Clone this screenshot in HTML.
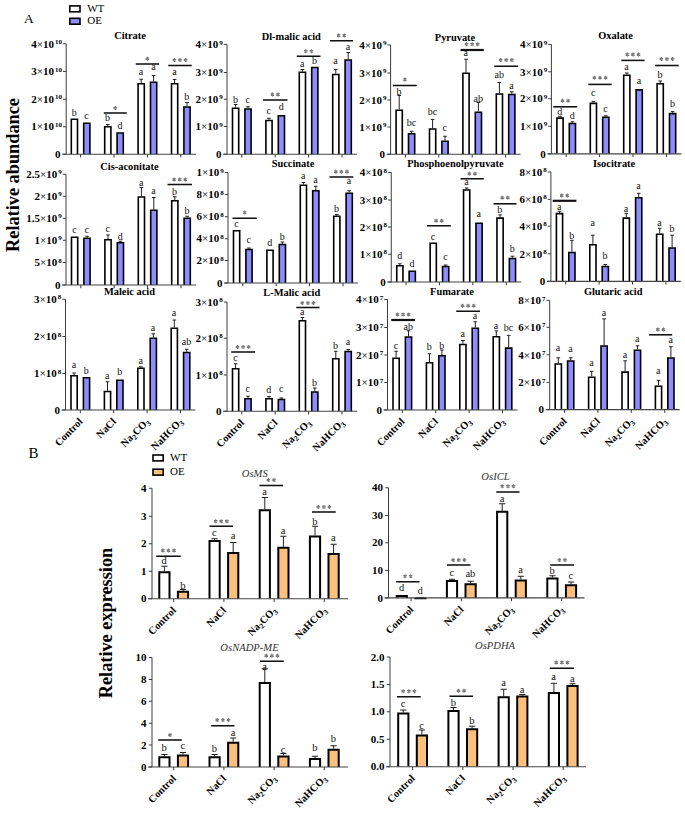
<!DOCTYPE html>
<html><head><meta charset="utf-8"><title>figure</title>
<style>html,body{margin:0;padding:0;background:#fff;}svg{display:block;}</style>
</head><body>
<svg width="685" height="813" viewBox="0 0 685 813">
<rect width="685" height="813" fill="#fff"/>
<text x="24" y="22.7" font-family="Liberation Serif" font-size="13.5">A</text>
<text x="28.6" y="457.9" font-family="Liberation Serif" font-size="15">B</text>
<rect x="69.8" y="5.8999999999999995" width="10.2" height="5.9" fill="#fff" stroke="#000" stroke-width="1.6"/>
<rect x="69.8" y="18.3" width="10.2" height="5.9" fill="#8f8cfd" stroke="#000" stroke-width="1.6"/>
<text x="87.2" y="11.899999999999999" font-family="Liberation Serif" font-size="11">WT</text>
<text x="87.2" y="24.3" font-family="Liberation Serif" font-size="11">OE</text>
<rect x="153.0" y="455.0" width="10.2" height="5.9" fill="#fff" stroke="#000" stroke-width="1.6"/>
<rect x="153.0" y="469.2" width="10.2" height="5.9" fill="#fcc07e" stroke="#000" stroke-width="1.6"/>
<text x="170.0" y="461.0" font-family="Liberation Serif" font-size="11">WT</text>
<text x="170.0" y="475.2" font-family="Liberation Serif" font-size="11">OE</text>
<text transform="translate(19.2,175) rotate(-90)" font-family="Liberation Serif" font-weight="bold" font-size="18.3" text-anchor="middle">Relative abundance</text>
<text transform="translate(112.3,623) rotate(-90)" font-family="Liberation Serif" font-weight="bold" font-size="18.3" text-anchor="middle">Relative expression</text>
<path d="M66.2,43.8V154.25" stroke="#3c3c3c" stroke-width="1" fill="none"/>
<path d="M63.0,43.8H66.2" stroke="#3c3c3c" stroke-width="1"/>
<text x="62.0" y="47.5" font-family="Liberation Serif" font-weight="bold" font-size="11" text-anchor="end">4<tspan font-weight="normal">×</tspan>10<tspan font-size="7" dx="1" dy="-3.6">10</tspan></text>
<path d="M63.0,71.4H66.2" stroke="#3c3c3c" stroke-width="1"/>
<text x="62.0" y="75.10000000000001" font-family="Liberation Serif" font-weight="bold" font-size="11" text-anchor="end">3<tspan font-weight="normal">×</tspan>10<tspan font-size="7" dx="1" dy="-3.6">10</tspan></text>
<path d="M63.0,99.25H66.2" stroke="#3c3c3c" stroke-width="1"/>
<text x="62.0" y="102.95" font-family="Liberation Serif" font-weight="bold" font-size="11" text-anchor="end">2<tspan font-weight="normal">×</tspan>10<tspan font-size="7" dx="1" dy="-3.6">10</tspan></text>
<path d="M63.0,126.75H66.2" stroke="#3c3c3c" stroke-width="1"/>
<text x="62.0" y="130.45" font-family="Liberation Serif" font-weight="bold" font-size="11" text-anchor="end">1<tspan font-weight="normal">×</tspan>10<tspan font-size="7" dx="1" dy="-3.6">10</tspan></text>
<path d="M63.0,154.25H66.2" stroke="#3c3c3c" stroke-width="1"/>
<text x="60.6" y="157.95" font-family="Liberation Serif" font-weight="bold" font-size="11" text-anchor="end">0</text>
<path d="M80.60,154.25v3.2" stroke="#333" stroke-width="1"/>
<path d="M114.00,154.25v3.2" stroke="#333" stroke-width="1"/>
<path d="M147.40,154.25v3.2" stroke="#333" stroke-width="1"/>
<path d="M180.80,154.25v3.2" stroke="#333" stroke-width="1"/>
<path d="M71.30,154.25V119.30H77.50V154.25" fill="#fff" stroke="#000" stroke-width="1.6"/>
<text x="74.20" y="116.40" font-family="Liberation Serif" font-size="10" text-anchor="middle" fill="#111">b</text>
<path d="M83.70,154.25V123.20H89.90V154.25" fill="#8f8cfd" stroke="#000" stroke-width="1.6"/>
<text x="86.60" y="118.65" font-family="Liberation Serif" font-size="10" text-anchor="middle" fill="#111">c</text>
<path d="M107.80,126.00V124.50M106.00,124.50H109.60" stroke="#222" stroke-width="1" fill="none"/>
<path d="M104.70,154.25V126.80H110.90V154.25" fill="#fff" stroke="#000" stroke-width="1.6"/>
<text x="107.60" y="121.40" font-family="Liberation Serif" font-size="10" text-anchor="middle" fill="#111">b</text>
<path d="M117.10,154.25V133.05H123.30V154.25" fill="#8f8cfd" stroke="#000" stroke-width="1.6"/>
<text x="120.00" y="129.40" font-family="Liberation Serif" font-size="10" text-anchor="middle" fill="#111">d</text>
<path d="M141.20,83.00V79.25M139.40,79.25H143.00" stroke="#222" stroke-width="1" fill="none"/>
<path d="M138.10,154.25V83.80H144.30V154.25" fill="#fff" stroke="#000" stroke-width="1.6"/>
<text x="141.00" y="74.90" font-family="Liberation Serif" font-size="10" text-anchor="middle" fill="#111">a</text>
<path d="M153.60,81.50V75.50M151.80,75.50H155.40" stroke="#222" stroke-width="1" fill="none"/>
<path d="M150.50,154.25V82.30H156.70V154.25" fill="#8f8cfd" stroke="#000" stroke-width="1.6"/>
<text x="153.40" y="70.40" font-family="Liberation Serif" font-size="10" text-anchor="middle" fill="#111">a</text>
<path d="M174.60,83.00V79.50M172.80,79.50H176.40" stroke="#222" stroke-width="1" fill="none"/>
<path d="M171.50,154.25V83.80H177.70V154.25" fill="#fff" stroke="#000" stroke-width="1.6"/>
<text x="174.40" y="74.90" font-family="Liberation Serif" font-size="10" text-anchor="middle" fill="#111">a</text>
<path d="M187.00,106.25V102.50M185.20,102.50H188.80" stroke="#222" stroke-width="1" fill="none"/>
<path d="M183.90,154.25V107.05H190.10V154.25" fill="#8f8cfd" stroke="#000" stroke-width="1.6"/>
<text x="186.80" y="100.15" font-family="Liberation Serif" font-size="10" text-anchor="middle" fill="#111">b</text>
<path d="M62.2,154.25H196.2" stroke="#444" stroke-width="1.2" fill="none"/>
<path d="M103.75,113H126.75" stroke="#111" stroke-width="1.55"/>
<path d="M115.25,106.00L115.25,110.00M113.52,107.00L116.98,109.00M116.98,107.00L113.52,109.00" stroke="#7a7a7a" stroke-width="1.15" fill="none"/>
<path d="M135.75,64H159" stroke="#111" stroke-width="1.55"/>
<path d="M147.38,56.75L147.38,60.75M145.64,57.75L149.11,59.75M149.11,57.75L145.64,59.75" stroke="#7a7a7a" stroke-width="1.15" fill="none"/>
<path d="M168.25,65.5H191.75" stroke="#111" stroke-width="1.55"/>
<path d="M174.40,58.00L174.40,62.00M172.67,59.00L176.13,61.00M176.13,59.00L172.67,61.00" stroke="#7a7a7a" stroke-width="1.15" fill="none"/><path d="M180.00,58.00L180.00,62.00M178.27,59.00L181.73,61.00M181.73,59.00L178.27,61.00" stroke="#7a7a7a" stroke-width="1.15" fill="none"/><path d="M185.60,58.00L185.60,62.00M183.87,59.00L187.33,61.00M187.33,59.00L183.87,61.00" stroke="#7a7a7a" stroke-width="1.15" fill="none"/>
<text x="130" y="38.6" font-family="Liberation Serif" font-weight="bold" font-size="10.4" text-anchor="middle">Citrate</text>
<path d="M227,44.4V154.25" stroke="#3c3c3c" stroke-width="1" fill="none"/>
<path d="M223.8,44.4H227" stroke="#3c3c3c" stroke-width="1"/>
<text x="222.8" y="48.1" font-family="Liberation Serif" font-weight="bold" font-size="11" text-anchor="end">4<tspan font-weight="normal">×</tspan>10<tspan font-size="7" dx="1" dy="-3.6">9</tspan></text>
<path d="M223.8,72.5H227" stroke="#3c3c3c" stroke-width="1"/>
<text x="222.8" y="76.2" font-family="Liberation Serif" font-weight="bold" font-size="11" text-anchor="end">3<tspan font-weight="normal">×</tspan>10<tspan font-size="7" dx="1" dy="-3.6">9</tspan></text>
<path d="M223.8,99.25H227" stroke="#3c3c3c" stroke-width="1"/>
<text x="222.8" y="102.95" font-family="Liberation Serif" font-weight="bold" font-size="11" text-anchor="end">2<tspan font-weight="normal">×</tspan>10<tspan font-size="7" dx="1" dy="-3.6">9</tspan></text>
<path d="M223.8,126.5H227" stroke="#3c3c3c" stroke-width="1"/>
<text x="222.8" y="130.2" font-family="Liberation Serif" font-weight="bold" font-size="11" text-anchor="end">1<tspan font-weight="normal">×</tspan>10<tspan font-size="7" dx="1" dy="-3.6">9</tspan></text>
<path d="M223.8,154.25H227" stroke="#3c3c3c" stroke-width="1"/>
<text x="221.4" y="157.95" font-family="Liberation Serif" font-weight="bold" font-size="11" text-anchor="end">0</text>
<path d="M241.80,154.25v3.2" stroke="#333" stroke-width="1"/>
<path d="M275.20,154.25v3.2" stroke="#333" stroke-width="1"/>
<path d="M308.60,154.25v3.2" stroke="#333" stroke-width="1"/>
<path d="M342.00,154.25v3.2" stroke="#333" stroke-width="1"/>
<path d="M235.60,107.50V104.50M233.80,104.50H237.40" stroke="#222" stroke-width="1" fill="none"/>
<path d="M232.50,154.25V108.30H238.70V154.25" fill="#fff" stroke="#000" stroke-width="1.6"/>
<text x="235.40" y="103.40" font-family="Liberation Serif" font-size="10" text-anchor="middle" fill="#111">b</text>
<path d="M248.00,108.25V106.75M246.20,106.75H249.80" stroke="#222" stroke-width="1" fill="none"/>
<path d="M244.90,154.25V109.05H251.10V154.25" fill="#8f8cfd" stroke="#000" stroke-width="1.6"/>
<text x="247.80" y="103.40" font-family="Liberation Serif" font-size="10" text-anchor="middle" fill="#111">c</text>
<path d="M269.00,119.75V118.25M267.20,118.25H270.80" stroke="#222" stroke-width="1" fill="none"/>
<path d="M265.90,154.25V120.55H272.10V154.25" fill="#fff" stroke="#000" stroke-width="1.6"/>
<text x="268.80" y="114.15" font-family="Liberation Serif" font-size="10" text-anchor="middle" fill="#111">c</text>
<path d="M278.30,154.25V115.80H284.50V154.25" fill="#8f8cfd" stroke="#000" stroke-width="1.6"/>
<text x="281.20" y="110.40" font-family="Liberation Serif" font-size="10" text-anchor="middle" fill="#111">d</text>
<path d="M302.40,71.50V69.50M300.60,69.50H304.20" stroke="#222" stroke-width="1" fill="none"/>
<path d="M299.30,154.25V72.30H305.50V154.25" fill="#fff" stroke="#000" stroke-width="1.6"/>
<text x="302.20" y="67.40" font-family="Liberation Serif" font-size="10" text-anchor="middle" fill="#111">a</text>
<path d="M311.70,154.25V67.55H317.90V154.25" fill="#8f8cfd" stroke="#000" stroke-width="1.6"/>
<text x="314.60" y="63.90" font-family="Liberation Serif" font-size="10" text-anchor="middle" fill="#111">b</text>
<path d="M335.80,73.75V69.50M334.00,69.50H337.60" stroke="#222" stroke-width="1" fill="none"/>
<path d="M332.70,154.25V74.55H338.90V154.25" fill="#fff" stroke="#000" stroke-width="1.6"/>
<text x="335.60" y="64.15" font-family="Liberation Serif" font-size="10" text-anchor="middle" fill="#111">a</text>
<path d="M348.20,59.25V52.50M346.40,52.50H350.00" stroke="#222" stroke-width="1" fill="none"/>
<path d="M345.10,154.25V60.05H351.30V154.25" fill="#8f8cfd" stroke="#000" stroke-width="1.6"/>
<text x="348.00" y="50.40" font-family="Liberation Serif" font-size="10" text-anchor="middle" fill="#111">a</text>
<path d="M223,154.25H357" stroke="#444" stroke-width="1.2" fill="none"/>
<path d="M263,100H287.5" stroke="#111" stroke-width="1.55"/>
<path d="M272.45,92.50L272.45,96.50M270.72,93.50L274.18,95.50M274.18,93.50L270.72,95.50" stroke="#7a7a7a" stroke-width="1.15" fill="none"/><path d="M278.05,92.50L278.05,96.50M276.32,93.50L279.78,95.50M279.78,93.50L276.32,95.50" stroke="#7a7a7a" stroke-width="1.15" fill="none"/>
<path d="M296.75,56.25H320.5" stroke="#111" stroke-width="1.55"/>
<path d="M305.82,49.25L305.82,53.25M304.09,50.25L307.56,52.25M307.56,50.25L304.09,52.25" stroke="#7a7a7a" stroke-width="1.15" fill="none"/><path d="M311.43,49.25L311.43,53.25M309.69,50.25L313.16,52.25M313.16,50.25L309.69,52.25" stroke="#7a7a7a" stroke-width="1.15" fill="none"/>
<path d="M330,40.75H353" stroke="#111" stroke-width="1.55"/>
<path d="M338.70,33.50L338.70,37.50M336.97,34.50L340.43,36.50M340.43,34.50L336.97,36.50" stroke="#7a7a7a" stroke-width="1.15" fill="none"/><path d="M344.30,33.50L344.30,37.50M342.57,34.50L346.03,36.50M346.03,34.50L342.57,36.50" stroke="#7a7a7a" stroke-width="1.15" fill="none"/>
<text x="291.25" y="39.85" font-family="Liberation Serif" font-weight="bold" font-size="10.4" text-anchor="middle">Dl-malic acid</text>
<path d="M390.6,45V154.25" stroke="#3c3c3c" stroke-width="1" fill="none"/>
<path d="M387.40000000000003,45H390.6" stroke="#3c3c3c" stroke-width="1"/>
<text x="386.40000000000003" y="48.7" font-family="Liberation Serif" font-weight="bold" font-size="11" text-anchor="end">4<tspan font-weight="normal">×</tspan>10<tspan font-size="7" dx="1" dy="-3.6">9</tspan></text>
<path d="M387.40000000000003,73H390.6" stroke="#3c3c3c" stroke-width="1"/>
<text x="386.40000000000003" y="76.7" font-family="Liberation Serif" font-weight="bold" font-size="11" text-anchor="end">3<tspan font-weight="normal">×</tspan>10<tspan font-size="7" dx="1" dy="-3.6">9</tspan></text>
<path d="M387.40000000000003,100H390.6" stroke="#3c3c3c" stroke-width="1"/>
<text x="386.40000000000003" y="103.7" font-family="Liberation Serif" font-weight="bold" font-size="11" text-anchor="end">2<tspan font-weight="normal">×</tspan>10<tspan font-size="7" dx="1" dy="-3.6">9</tspan></text>
<path d="M387.40000000000003,127H390.6" stroke="#3c3c3c" stroke-width="1"/>
<text x="386.40000000000003" y="130.7" font-family="Liberation Serif" font-weight="bold" font-size="11" text-anchor="end">1<tspan font-weight="normal">×</tspan>10<tspan font-size="7" dx="1" dy="-3.6">9</tspan></text>
<path d="M387.40000000000003,154.25H390.6" stroke="#3c3c3c" stroke-width="1"/>
<text x="385.0" y="157.95" font-family="Liberation Serif" font-weight="bold" font-size="11" text-anchor="end">0</text>
<path d="M405.40,154.25v3.2" stroke="#333" stroke-width="1"/>
<path d="M438.80,154.25v3.2" stroke="#333" stroke-width="1"/>
<path d="M472.20,154.25v3.2" stroke="#333" stroke-width="1"/>
<path d="M505.60,154.25v3.2" stroke="#333" stroke-width="1"/>
<path d="M399.20,109.50V95.50M397.40,95.50H401.00" stroke="#222" stroke-width="1" fill="none"/>
<path d="M396.10,154.25V110.30H402.30V154.25" fill="#fff" stroke="#000" stroke-width="1.6"/>
<text x="399.00" y="94.65" font-family="Liberation Serif" font-size="10" text-anchor="middle" fill="#111">b</text>
<path d="M411.60,133.00V131.25M409.80,131.25H413.40" stroke="#222" stroke-width="1" fill="none"/>
<path d="M408.50,154.25V133.80H414.70V154.25" fill="#8f8cfd" stroke="#000" stroke-width="1.6"/>
<text x="411.40" y="126.20" font-family="Liberation Serif" font-size="10" text-anchor="middle" fill="#111">bc</text>
<path d="M432.60,128.25V119.50M430.80,119.50H434.40" stroke="#222" stroke-width="1" fill="none"/>
<path d="M429.50,154.25V129.05H435.70V154.25" fill="#fff" stroke="#000" stroke-width="1.6"/>
<text x="432.40" y="115.45" font-family="Liberation Serif" font-size="10" text-anchor="middle" fill="#111">bc</text>
<path d="M445.00,140.50V136.25M443.20,136.25H446.80" stroke="#222" stroke-width="1" fill="none"/>
<path d="M441.90,154.25V141.30H448.10V154.25" fill="#8f8cfd" stroke="#000" stroke-width="1.6"/>
<text x="444.80" y="131.15" font-family="Liberation Serif" font-size="10" text-anchor="middle" fill="#111">c</text>
<path d="M466.00,72.50V59.25M464.20,59.25H467.80" stroke="#222" stroke-width="1" fill="none"/>
<path d="M462.90,154.25V73.30H469.10V154.25" fill="#fff" stroke="#000" stroke-width="1.6"/>
<text x="465.80" y="56.15" font-family="Liberation Serif" font-size="10" text-anchor="middle" fill="#111">a</text>
<path d="M478.40,111.50V102.50M476.60,102.50H480.20" stroke="#222" stroke-width="1" fill="none"/>
<path d="M475.30,154.25V112.30H481.50V154.25" fill="#8f8cfd" stroke="#000" stroke-width="1.6"/>
<text x="478.20" y="101.95" font-family="Liberation Serif" font-size="10" text-anchor="middle" fill="#111">ab</text>
<path d="M499.40,93.25V82.50M497.60,82.50H501.20" stroke="#222" stroke-width="1" fill="none"/>
<path d="M496.30,154.25V94.05H502.50V154.25" fill="#fff" stroke="#000" stroke-width="1.6"/>
<text x="499.20" y="78.20" font-family="Liberation Serif" font-size="10" text-anchor="middle" fill="#111">ab</text>
<path d="M511.80,93.75V91.75M510.00,91.75H513.60" stroke="#222" stroke-width="1" fill="none"/>
<path d="M508.70,154.25V94.55H514.90V154.25" fill="#8f8cfd" stroke="#000" stroke-width="1.6"/>
<text x="511.60" y="89.15" font-family="Liberation Serif" font-size="10" text-anchor="middle" fill="#111">a</text>
<path d="M386.6,154.25H520.6" stroke="#444" stroke-width="1.2" fill="none"/>
<path d="M393,85.5H416.75" stroke="#111" stroke-width="1.55"/>
<path d="M404.88,77.50L404.88,81.50M403.14,78.50L406.61,80.50M406.61,78.50L403.14,80.50" stroke="#7a7a7a" stroke-width="1.15" fill="none"/>
<path d="M460.5,50H483.75" stroke="#111" stroke-width="2.2"/>
<path d="M466.52,42.25L466.52,46.25M464.79,43.25L468.26,45.25M468.26,43.25L464.79,45.25" stroke="#7a7a7a" stroke-width="1.15" fill="none"/><path d="M472.12,42.25L472.12,46.25M470.39,43.25L473.86,45.25M473.86,43.25L470.39,45.25" stroke="#7a7a7a" stroke-width="1.15" fill="none"/><path d="M477.72,42.25L477.72,46.25M475.99,43.25L479.46,45.25M479.46,43.25L475.99,45.25" stroke="#7a7a7a" stroke-width="1.15" fill="none"/>
<path d="M494.25,66.25H518.25" stroke="#111" stroke-width="1.55"/>
<path d="M500.65,58.00L500.65,62.00M498.92,59.00L502.38,61.00M502.38,59.00L498.92,61.00" stroke="#7a7a7a" stroke-width="1.15" fill="none"/><path d="M506.25,58.00L506.25,62.00M504.52,59.00L507.98,61.00M507.98,59.00L504.52,61.00" stroke="#7a7a7a" stroke-width="1.15" fill="none"/><path d="M511.85,58.00L511.85,62.00M510.12,59.00L513.58,61.00M513.58,59.00L510.12,61.00" stroke="#7a7a7a" stroke-width="1.15" fill="none"/>
<text x="455" y="40.6" font-family="Liberation Serif" font-weight="bold" font-size="10.4" text-anchor="middle">Pyruvate</text>
<path d="M551.4,44.4V153.8" stroke="#3c3c3c" stroke-width="1" fill="none"/>
<path d="M548.1999999999999,44.4H551.4" stroke="#3c3c3c" stroke-width="1"/>
<text x="547.1999999999999" y="48.1" font-family="Liberation Serif" font-weight="bold" font-size="11" text-anchor="end">4<tspan font-weight="normal">×</tspan>10<tspan font-size="7" dx="1" dy="-3.6">9</tspan></text>
<path d="M548.1999999999999,71.8H551.4" stroke="#3c3c3c" stroke-width="1"/>
<text x="547.1999999999999" y="75.5" font-family="Liberation Serif" font-weight="bold" font-size="11" text-anchor="end">3<tspan font-weight="normal">×</tspan>10<tspan font-size="7" dx="1" dy="-3.6">9</tspan></text>
<path d="M548.1999999999999,98.7H551.4" stroke="#3c3c3c" stroke-width="1"/>
<text x="547.1999999999999" y="102.4" font-family="Liberation Serif" font-weight="bold" font-size="11" text-anchor="end">2<tspan font-weight="normal">×</tspan>10<tspan font-size="7" dx="1" dy="-3.6">9</tspan></text>
<path d="M548.1999999999999,126.3H551.4" stroke="#3c3c3c" stroke-width="1"/>
<text x="547.1999999999999" y="130.0" font-family="Liberation Serif" font-weight="bold" font-size="11" text-anchor="end">1<tspan font-weight="normal">×</tspan>10<tspan font-size="7" dx="1" dy="-3.6">9</tspan></text>
<path d="M548.1999999999999,153.8H551.4" stroke="#3c3c3c" stroke-width="1"/>
<text x="545.8" y="157.5" font-family="Liberation Serif" font-weight="bold" font-size="11" text-anchor="end">0</text>
<path d="M566.20,153.8v3.2" stroke="#333" stroke-width="1"/>
<path d="M599.60,153.8v3.2" stroke="#333" stroke-width="1"/>
<path d="M633.00,153.8v3.2" stroke="#333" stroke-width="1"/>
<path d="M666.40,153.8v3.2" stroke="#333" stroke-width="1"/>
<path d="M560.00,117.30V116.40M558.20,116.40H561.80" stroke="#222" stroke-width="1" fill="none"/>
<path d="M556.90,153.80V118.10H563.10V153.80" fill="#fff" stroke="#000" stroke-width="1.6"/>
<text x="559.80" y="115.20" font-family="Liberation Serif" font-size="10" text-anchor="middle" fill="#111">d</text>
<path d="M572.40,122.70V121.80M570.60,121.80H574.20" stroke="#222" stroke-width="1" fill="none"/>
<path d="M569.30,153.80V123.50H575.50V153.80" fill="#8f8cfd" stroke="#000" stroke-width="1.6"/>
<text x="572.20" y="119.10" font-family="Liberation Serif" font-size="10" text-anchor="middle" fill="#111">d</text>
<path d="M593.40,102.60V101.40M591.60,101.40H595.20" stroke="#222" stroke-width="1" fill="none"/>
<path d="M590.30,153.80V103.40H596.50V153.80" fill="#fff" stroke="#000" stroke-width="1.6"/>
<text x="593.20" y="95.60" font-family="Liberation Serif" font-size="10" text-anchor="middle" fill="#111">c</text>
<path d="M605.80,116.40V115.80M604.00,115.80H607.60" stroke="#222" stroke-width="1" fill="none"/>
<path d="M602.70,153.80V117.20H608.90V153.80" fill="#8f8cfd" stroke="#000" stroke-width="1.6"/>
<text x="605.60" y="111.50" font-family="Liberation Serif" font-size="10" text-anchor="middle" fill="#111">c</text>
<path d="M626.80,74.50V73.00M625.00,73.00H628.60" stroke="#222" stroke-width="1" fill="none"/>
<path d="M623.70,153.80V75.30H629.90V153.80" fill="#fff" stroke="#000" stroke-width="1.6"/>
<text x="626.60" y="69.90" font-family="Liberation Serif" font-size="10" text-anchor="middle" fill="#111">a</text>
<path d="M636.10,153.80V89.90H642.30V153.80" fill="#8f8cfd" stroke="#000" stroke-width="1.6"/>
<text x="639.00" y="83.70" font-family="Liberation Serif" font-size="10" text-anchor="middle" fill="#111">a</text>
<path d="M660.20,82.90V81.00M658.40,81.00H662.00" stroke="#222" stroke-width="1" fill="none"/>
<path d="M657.10,153.80V83.70H663.30V153.80" fill="#fff" stroke="#000" stroke-width="1.6"/>
<text x="660.00" y="77.80" font-family="Liberation Serif" font-size="10" text-anchor="middle" fill="#111">b</text>
<path d="M672.60,112.80V111.60M670.80,111.60H674.40" stroke="#222" stroke-width="1" fill="none"/>
<path d="M669.50,153.80V113.60H675.70V153.80" fill="#8f8cfd" stroke="#000" stroke-width="1.6"/>
<text x="672.40" y="106.80" font-family="Liberation Serif" font-size="10" text-anchor="middle" fill="#111">b</text>
<path d="M547.4,153.8H681.4" stroke="#444" stroke-width="1.2" fill="none"/>
<path d="M553.3,106.8H577.3" stroke="#111" stroke-width="1.55"/>
<path d="M562.50,98.80L562.50,102.80M560.77,99.80L564.23,101.80M564.23,99.80L560.77,101.80" stroke="#7a7a7a" stroke-width="1.15" fill="none"/><path d="M568.10,98.80L568.10,102.80M566.37,99.80L569.83,101.80M569.83,99.80L566.37,101.80" stroke="#7a7a7a" stroke-width="1.15" fill="none"/>
<path d="M588.3,84.4H611.7" stroke="#111" stroke-width="1.55"/>
<path d="M594.40,75.80L594.40,79.80M592.67,76.80L596.13,78.80M596.13,76.80L592.67,78.80" stroke="#7a7a7a" stroke-width="1.15" fill="none"/><path d="M600.00,75.80L600.00,79.80M598.27,76.80L601.73,78.80M601.73,76.80L598.27,78.80" stroke="#7a7a7a" stroke-width="1.15" fill="none"/><path d="M605.60,75.80L605.60,79.80M603.87,76.80L607.33,78.80M607.33,76.80L603.87,78.80" stroke="#7a7a7a" stroke-width="1.15" fill="none"/>
<path d="M621.3,60.4H644.6" stroke="#111" stroke-width="1.55"/>
<path d="M627.35,52.40L627.35,56.40M625.62,53.40L629.08,55.40M629.08,53.40L625.62,55.40" stroke="#7a7a7a" stroke-width="1.15" fill="none"/><path d="M632.95,52.40L632.95,56.40M631.22,53.40L634.68,55.40M634.68,53.40L631.22,55.40" stroke="#7a7a7a" stroke-width="1.15" fill="none"/><path d="M638.55,52.40L638.55,56.40M636.82,53.40L640.28,55.40M640.28,53.40L636.82,55.40" stroke="#7a7a7a" stroke-width="1.15" fill="none"/>
<path d="M655.1,65.5H678.7" stroke="#111" stroke-width="1.55"/>
<path d="M661.30,56.90L661.30,60.90M659.57,57.90L663.03,59.90M663.03,57.90L659.57,59.90" stroke="#7a7a7a" stroke-width="1.15" fill="none"/><path d="M666.90,56.90L666.90,60.90M665.17,57.90L668.63,59.90M668.63,57.90L665.17,59.90" stroke="#7a7a7a" stroke-width="1.15" fill="none"/><path d="M672.50,56.90L672.50,60.90M670.77,57.90L674.23,59.90M674.23,57.90L670.77,59.90" stroke="#7a7a7a" stroke-width="1.15" fill="none"/>
<text x="615.6" y="39.2" font-family="Liberation Serif" font-weight="bold" font-size="10.4" text-anchor="middle">Oxalate</text>
<path d="M66,174.25V285" stroke="#3c3c3c" stroke-width="1" fill="none"/>
<path d="M62.8,174.25H66" stroke="#3c3c3c" stroke-width="1"/>
<text x="61.8" y="177.95" font-family="Liberation Serif" font-weight="bold" font-size="11" text-anchor="end">2.5<tspan font-weight="normal">×</tspan>10<tspan font-size="7" dx="1" dy="-3.6">9</tspan></text>
<path d="M62.8,196.25H66" stroke="#3c3c3c" stroke-width="1"/>
<text x="61.8" y="199.95" font-family="Liberation Serif" font-weight="bold" font-size="11" text-anchor="end">2<tspan font-weight="normal">×</tspan>10<tspan font-size="7" dx="1" dy="-3.6">9</tspan></text>
<path d="M62.8,218.25H66" stroke="#3c3c3c" stroke-width="1"/>
<text x="61.8" y="221.95" font-family="Liberation Serif" font-weight="bold" font-size="11" text-anchor="end">1.5<tspan font-weight="normal">×</tspan>10<tspan font-size="7" dx="1" dy="-3.6">9</tspan></text>
<path d="M62.8,240.25H66" stroke="#3c3c3c" stroke-width="1"/>
<text x="61.8" y="243.95" font-family="Liberation Serif" font-weight="bold" font-size="11" text-anchor="end">1<tspan font-weight="normal">×</tspan>10<tspan font-size="7" dx="1" dy="-3.6">9</tspan></text>
<path d="M62.8,262.5H66" stroke="#3c3c3c" stroke-width="1"/>
<text x="61.8" y="266.2" font-family="Liberation Serif" font-weight="bold" font-size="11" text-anchor="end">5<tspan font-weight="normal">×</tspan>10<tspan font-size="7" dx="1" dy="-3.6">8</tspan></text>
<path d="M62.8,285H66" stroke="#3c3c3c" stroke-width="1"/>
<text x="60.4" y="288.7" font-family="Liberation Serif" font-weight="bold" font-size="11" text-anchor="end">0</text>
<path d="M80.80,285v3.2" stroke="#333" stroke-width="1"/>
<path d="M114.20,285v3.2" stroke="#333" stroke-width="1"/>
<path d="M147.60,285v3.2" stroke="#333" stroke-width="1"/>
<path d="M181.00,285v3.2" stroke="#333" stroke-width="1"/>
<path d="M71.50,285.00V237.30H77.70V285.00" fill="#fff" stroke="#000" stroke-width="1.6"/>
<text x="74.40" y="232.90" font-family="Liberation Serif" font-size="10" text-anchor="middle" fill="#111">c</text>
<path d="M87.00,237.50V236.25M85.20,236.25H88.80" stroke="#222" stroke-width="1" fill="none"/>
<path d="M83.90,285.00V238.30H90.10V285.00" fill="#8f8cfd" stroke="#000" stroke-width="1.6"/>
<text x="86.80" y="232.90" font-family="Liberation Serif" font-size="10" text-anchor="middle" fill="#111">c</text>
<path d="M108.00,239.00V235.00M106.20,235.00H109.80" stroke="#222" stroke-width="1" fill="none"/>
<path d="M104.90,285.00V239.80H111.10V285.00" fill="#fff" stroke="#000" stroke-width="1.6"/>
<text x="107.80" y="232.40" font-family="Liberation Serif" font-size="10" text-anchor="middle" fill="#111">c</text>
<path d="M120.40,242.00V241.25M118.60,241.25H122.20" stroke="#222" stroke-width="1" fill="none"/>
<path d="M117.30,285.00V242.80H123.50V285.00" fill="#8f8cfd" stroke="#000" stroke-width="1.6"/>
<text x="120.20" y="240.15" font-family="Liberation Serif" font-size="10" text-anchor="middle" fill="#111">d</text>
<path d="M141.40,196.25V187.50M139.60,187.50H143.20" stroke="#222" stroke-width="1" fill="none"/>
<path d="M138.30,285.00V197.05H144.50V285.00" fill="#fff" stroke="#000" stroke-width="1.6"/>
<text x="141.20" y="185.90" font-family="Liberation Serif" font-size="10" text-anchor="middle" fill="#111">a</text>
<path d="M153.80,209.50V197.50M152.00,197.50H155.60" stroke="#222" stroke-width="1" fill="none"/>
<path d="M150.70,285.00V210.30H156.90V285.00" fill="#8f8cfd" stroke="#000" stroke-width="1.6"/>
<text x="153.60" y="194.15" font-family="Liberation Serif" font-size="10" text-anchor="middle" fill="#111">a</text>
<path d="M174.80,200.00V196.75M173.00,196.75H176.60" stroke="#222" stroke-width="1" fill="none"/>
<path d="M171.70,285.00V200.80H177.90V285.00" fill="#fff" stroke="#000" stroke-width="1.6"/>
<text x="174.60" y="195.15" font-family="Liberation Serif" font-size="10" text-anchor="middle" fill="#111">b</text>
<path d="M187.20,217.50V216.25M185.40,216.25H189.00" stroke="#222" stroke-width="1" fill="none"/>
<path d="M184.10,285.00V218.30H190.30V285.00" fill="#8f8cfd" stroke="#000" stroke-width="1.6"/>
<text x="187.00" y="214.40" font-family="Liberation Serif" font-size="10" text-anchor="middle" fill="#111">b</text>
<path d="M62,285H196" stroke="#444" stroke-width="1.2" fill="none"/>
<path d="M167.5,184.5H192" stroke="#111" stroke-width="1.55"/>
<path d="M174.15,177.50L174.15,181.50M172.42,178.50L175.88,180.50M175.88,178.50L172.42,180.50" stroke="#7a7a7a" stroke-width="1.15" fill="none"/><path d="M179.75,177.50L179.75,181.50M178.02,178.50L181.48,180.50M181.48,178.50L178.02,180.50" stroke="#7a7a7a" stroke-width="1.15" fill="none"/><path d="M185.35,177.50L185.35,181.50M183.62,178.50L187.08,180.50M187.08,178.50L183.62,180.50" stroke="#7a7a7a" stroke-width="1.15" fill="none"/>
<text x="129.5" y="169.85" font-family="Liberation Serif" font-weight="bold" font-size="10.4" text-anchor="middle">Cis-aconitate</text>
<path d="M228,172.5V283" stroke="#3c3c3c" stroke-width="1" fill="none"/>
<path d="M224.8,172.5H228" stroke="#3c3c3c" stroke-width="1"/>
<text x="223.8" y="176.2" font-family="Liberation Serif" font-weight="bold" font-size="11" text-anchor="end">1<tspan font-weight="normal">×</tspan>10<tspan font-size="7" dx="1" dy="-3.6">9</tspan></text>
<path d="M224.8,194.5H228" stroke="#3c3c3c" stroke-width="1"/>
<text x="223.8" y="198.2" font-family="Liberation Serif" font-weight="bold" font-size="11" text-anchor="end">8<tspan font-weight="normal">×</tspan>10<tspan font-size="7" dx="1" dy="-3.6">8</tspan></text>
<path d="M224.8,216.75H228" stroke="#3c3c3c" stroke-width="1"/>
<text x="223.8" y="220.45" font-family="Liberation Serif" font-weight="bold" font-size="11" text-anchor="end">6<tspan font-weight="normal">×</tspan>10<tspan font-size="7" dx="1" dy="-3.6">8</tspan></text>
<path d="M224.8,238.75H228" stroke="#3c3c3c" stroke-width="1"/>
<text x="223.8" y="242.45" font-family="Liberation Serif" font-weight="bold" font-size="11" text-anchor="end">4<tspan font-weight="normal">×</tspan>10<tspan font-size="7" dx="1" dy="-3.6">8</tspan></text>
<path d="M224.8,260.5H228" stroke="#3c3c3c" stroke-width="1"/>
<text x="223.8" y="264.2" font-family="Liberation Serif" font-weight="bold" font-size="11" text-anchor="end">2<tspan font-weight="normal">×</tspan>10<tspan font-size="7" dx="1" dy="-3.6">8</tspan></text>
<path d="M224.8,283H228" stroke="#3c3c3c" stroke-width="1"/>
<text x="222.4" y="286.7" font-family="Liberation Serif" font-weight="bold" font-size="11" text-anchor="end">0</text>
<path d="M242.80,283v3.2" stroke="#333" stroke-width="1"/>
<path d="M276.20,283v3.2" stroke="#333" stroke-width="1"/>
<path d="M309.60,283v3.2" stroke="#333" stroke-width="1"/>
<path d="M343.00,283v3.2" stroke="#333" stroke-width="1"/>
<path d="M233.50,283.00V230.80H239.70V283.00" fill="#fff" stroke="#000" stroke-width="1.6"/>
<text x="236.40" y="227.15" font-family="Liberation Serif" font-size="10" text-anchor="middle" fill="#111">c</text>
<path d="M249.00,248.75V248.00M247.20,248.00H250.80" stroke="#222" stroke-width="1" fill="none"/>
<path d="M245.90,283.00V249.55H252.10V283.00" fill="#8f8cfd" stroke="#000" stroke-width="1.6"/>
<text x="248.80" y="242.90" font-family="Liberation Serif" font-size="10" text-anchor="middle" fill="#111">c</text>
<path d="M266.90,283.00V250.30H273.10V283.00" fill="#fff" stroke="#000" stroke-width="1.6"/>
<text x="269.80" y="245.90" font-family="Liberation Serif" font-size="10" text-anchor="middle" fill="#111">d</text>
<path d="M282.40,243.75V242.00M280.60,242.00H284.20" stroke="#222" stroke-width="1" fill="none"/>
<path d="M279.30,283.00V244.55H285.50V283.00" fill="#8f8cfd" stroke="#000" stroke-width="1.6"/>
<text x="282.20" y="240.15" font-family="Liberation Serif" font-size="10" text-anchor="middle" fill="#111">b</text>
<path d="M303.40,184.50V182.50M301.60,182.50H305.20" stroke="#222" stroke-width="1" fill="none"/>
<path d="M300.30,283.00V185.30H306.50V283.00" fill="#fff" stroke="#000" stroke-width="1.6"/>
<text x="303.20" y="179.15" font-family="Liberation Serif" font-size="10" text-anchor="middle" fill="#111">a</text>
<path d="M315.80,190.00V186.25M314.00,186.25H317.60" stroke="#222" stroke-width="1" fill="none"/>
<path d="M312.70,283.00V190.80H318.90V283.00" fill="#8f8cfd" stroke="#000" stroke-width="1.6"/>
<text x="315.60" y="182.90" font-family="Liberation Serif" font-size="10" text-anchor="middle" fill="#111">a</text>
<path d="M336.80,215.50V214.50M335.00,214.50H338.60" stroke="#222" stroke-width="1" fill="none"/>
<path d="M333.70,283.00V216.30H339.90V283.00" fill="#fff" stroke="#000" stroke-width="1.6"/>
<text x="336.60" y="211.90" font-family="Liberation Serif" font-size="10" text-anchor="middle" fill="#111">b</text>
<path d="M349.20,192.50V190.75M347.40,190.75H351.00" stroke="#222" stroke-width="1" fill="none"/>
<path d="M346.10,283.00V193.30H352.30V283.00" fill="#8f8cfd" stroke="#000" stroke-width="1.6"/>
<text x="349.00" y="184.15" font-family="Liberation Serif" font-size="10" text-anchor="middle" fill="#111">a</text>
<path d="M224,283H358" stroke="#444" stroke-width="1.2" fill="none"/>
<path d="M232.5,218.25H256.75" stroke="#111" stroke-width="1.55"/>
<path d="M244.62,210.50L244.62,214.50M242.89,211.50L246.36,213.50M246.36,211.50L242.89,213.50" stroke="#7a7a7a" stroke-width="1.15" fill="none"/>
<path d="M329.5,177H353.25" stroke="#111" stroke-width="1.55"/>
<path d="M335.77,169.75L335.77,173.75M334.04,170.75L337.51,172.75M337.51,170.75L334.04,172.75" stroke="#7a7a7a" stroke-width="1.15" fill="none"/><path d="M341.38,169.75L341.38,173.75M339.64,170.75L343.11,172.75M343.11,170.75L339.64,172.75" stroke="#7a7a7a" stroke-width="1.15" fill="none"/><path d="M346.97,169.75L346.97,173.75M345.24,170.75L348.71,172.75M348.71,170.75L345.24,172.75" stroke="#7a7a7a" stroke-width="1.15" fill="none"/>
<text x="293" y="167.35" font-family="Liberation Serif" font-weight="bold" font-size="10.4" text-anchor="middle">Succinate</text>
<path d="M391.25,172.5V282" stroke="#3c3c3c" stroke-width="1" fill="none"/>
<path d="M388.05,172.5H391.25" stroke="#3c3c3c" stroke-width="1"/>
<text x="387.05" y="176.2" font-family="Liberation Serif" font-weight="bold" font-size="11" text-anchor="end">4<tspan font-weight="normal">×</tspan>10<tspan font-size="7" dx="1" dy="-3.6">8</tspan></text>
<path d="M388.05,200H391.25" stroke="#3c3c3c" stroke-width="1"/>
<text x="387.05" y="203.7" font-family="Liberation Serif" font-weight="bold" font-size="11" text-anchor="end">3<tspan font-weight="normal">×</tspan>10<tspan font-size="7" dx="1" dy="-3.6">8</tspan></text>
<path d="M388.05,227H391.25" stroke="#3c3c3c" stroke-width="1"/>
<text x="387.05" y="230.7" font-family="Liberation Serif" font-weight="bold" font-size="11" text-anchor="end">2<tspan font-weight="normal">×</tspan>10<tspan font-size="7" dx="1" dy="-3.6">8</tspan></text>
<path d="M388.05,254.25H391.25" stroke="#3c3c3c" stroke-width="1"/>
<text x="387.05" y="257.95" font-family="Liberation Serif" font-weight="bold" font-size="11" text-anchor="end">1<tspan font-weight="normal">×</tspan>10<tspan font-size="7" dx="1" dy="-3.6">8</tspan></text>
<path d="M388.05,282H391.25" stroke="#3c3c3c" stroke-width="1"/>
<text x="385.65" y="285.7" font-family="Liberation Serif" font-weight="bold" font-size="11" text-anchor="end">0</text>
<path d="M406.05,282v3.2" stroke="#333" stroke-width="1"/>
<path d="M439.45,282v3.2" stroke="#333" stroke-width="1"/>
<path d="M472.85,282v3.2" stroke="#333" stroke-width="1"/>
<path d="M506.25,282v3.2" stroke="#333" stroke-width="1"/>
<path d="M399.85,265.00V263.75M398.05,263.75H401.65" stroke="#222" stroke-width="1" fill="none"/>
<path d="M396.75,282.00V265.80H402.95V282.00" fill="#fff" stroke="#000" stroke-width="1.6"/>
<text x="399.65" y="259.40" font-family="Liberation Serif" font-size="10" text-anchor="middle" fill="#111">d</text>
<path d="M409.15,282.00V271.30H415.35V282.00" fill="#8f8cfd" stroke="#000" stroke-width="1.6"/>
<text x="412.05" y="266.90" font-family="Liberation Serif" font-size="10" text-anchor="middle" fill="#111">d</text>
<path d="M430.15,282.00V243.30H436.35V282.00" fill="#fff" stroke="#000" stroke-width="1.6"/>
<text x="433.05" y="239.65" font-family="Liberation Serif" font-size="10" text-anchor="middle" fill="#111">c</text>
<path d="M445.65,265.75V265.00M443.85,265.00H447.45" stroke="#222" stroke-width="1" fill="none"/>
<path d="M442.55,282.00V266.55H448.75V282.00" fill="#8f8cfd" stroke="#000" stroke-width="1.6"/>
<text x="445.45" y="260.40" font-family="Liberation Serif" font-size="10" text-anchor="middle" fill="#111">c</text>
<path d="M466.65,189.25V188.00M464.85,188.00H468.45" stroke="#222" stroke-width="1" fill="none"/>
<path d="M463.55,282.00V190.05H469.75V282.00" fill="#fff" stroke="#000" stroke-width="1.6"/>
<text x="466.45" y="185.40" font-family="Liberation Serif" font-size="10" text-anchor="middle" fill="#111">a</text>
<path d="M475.95,282.00V223.30H482.15V282.00" fill="#8f8cfd" stroke="#000" stroke-width="1.6"/>
<text x="478.85" y="217.15" font-family="Liberation Serif" font-size="10" text-anchor="middle" fill="#111">a</text>
<path d="M500.05,217.30V214.90M498.25,214.90H501.85" stroke="#222" stroke-width="1" fill="none"/>
<path d="M496.95,282.00V218.10H503.15V282.00" fill="#fff" stroke="#000" stroke-width="1.6"/>
<text x="499.85" y="213.40" font-family="Liberation Serif" font-size="10" text-anchor="middle" fill="#111">b</text>
<path d="M512.45,257.70V256.20M510.65,256.20H514.25" stroke="#222" stroke-width="1" fill="none"/>
<path d="M509.35,282.00V258.50H515.55V282.00" fill="#8f8cfd" stroke="#000" stroke-width="1.6"/>
<text x="512.25" y="252.30" font-family="Liberation Serif" font-size="10" text-anchor="middle" fill="#111">b</text>
<path d="M387.25,282H521.25" stroke="#444" stroke-width="1.2" fill="none"/>
<path d="M427,225.75H450.75" stroke="#111" stroke-width="1.55"/>
<path d="M436.07,218.75L436.07,222.75M434.34,219.75L437.81,221.75M437.81,219.75L434.34,221.75" stroke="#7a7a7a" stroke-width="1.15" fill="none"/><path d="M441.68,218.75L441.68,222.75M439.94,219.75L443.41,221.75M443.41,219.75L439.94,221.75" stroke="#7a7a7a" stroke-width="1.15" fill="none"/>
<path d="M460.5,178.75H483.75" stroke="#111" stroke-width="1.55"/>
<path d="M469.32,171.75L469.32,175.75M467.59,172.75L471.06,174.75M471.06,172.75L467.59,174.75" stroke="#7a7a7a" stroke-width="1.15" fill="none"/><path d="M474.93,171.75L474.93,175.75M473.19,172.75L476.66,174.75M476.66,172.75L473.19,174.75" stroke="#7a7a7a" stroke-width="1.15" fill="none"/>
<path d="M493.5,203.8H516.5" stroke="#111" stroke-width="1.55"/>
<path d="M502.20,195.80L502.20,199.80M500.47,196.80L503.93,198.80M503.93,196.80L500.47,198.80" stroke="#7a7a7a" stroke-width="1.15" fill="none"/><path d="M507.80,195.80L507.80,199.80M506.07,196.80L509.53,198.80M509.53,196.80L506.07,198.80" stroke="#7a7a7a" stroke-width="1.15" fill="none"/>
<text x="455.4" y="166.85" font-family="Liberation Serif" font-weight="bold" font-size="10.4" text-anchor="middle">Phosphoenolpyruvate</text>
<path d="M550.9,172V281.3" stroke="#3c3c3c" stroke-width="1" fill="none"/>
<path d="M547.6999999999999,172H550.9" stroke="#3c3c3c" stroke-width="1"/>
<text x="546.6999999999999" y="175.7" font-family="Liberation Serif" font-weight="bold" font-size="11" text-anchor="end">8<tspan font-weight="normal">×</tspan>10<tspan font-size="7" dx="1" dy="-3.6">8</tspan></text>
<path d="M547.6999999999999,199.3H550.9" stroke="#3c3c3c" stroke-width="1"/>
<text x="546.6999999999999" y="203.0" font-family="Liberation Serif" font-weight="bold" font-size="11" text-anchor="end">6<tspan font-weight="normal">×</tspan>10<tspan font-size="7" dx="1" dy="-3.6">8</tspan></text>
<path d="M547.6999999999999,226.2H550.9" stroke="#3c3c3c" stroke-width="1"/>
<text x="546.6999999999999" y="229.89999999999998" font-family="Liberation Serif" font-weight="bold" font-size="11" text-anchor="end">4<tspan font-weight="normal">×</tspan>10<tspan font-size="7" dx="1" dy="-3.6">8</tspan></text>
<path d="M547.6999999999999,253.8H550.9" stroke="#3c3c3c" stroke-width="1"/>
<text x="546.6999999999999" y="257.5" font-family="Liberation Serif" font-weight="bold" font-size="11" text-anchor="end">2<tspan font-weight="normal">×</tspan>10<tspan font-size="7" dx="1" dy="-3.6">8</tspan></text>
<path d="M547.6999999999999,281.3H550.9" stroke="#3c3c3c" stroke-width="1"/>
<text x="545.3" y="285.0" font-family="Liberation Serif" font-weight="bold" font-size="11" text-anchor="end">0</text>
<path d="M565.70,281.3v3.2" stroke="#333" stroke-width="1"/>
<path d="M599.10,281.3v3.2" stroke="#333" stroke-width="1"/>
<path d="M632.50,281.3v3.2" stroke="#333" stroke-width="1"/>
<path d="M665.90,281.3v3.2" stroke="#333" stroke-width="1"/>
<path d="M559.50,212.80V211.30M557.70,211.30H561.30" stroke="#222" stroke-width="1" fill="none"/>
<path d="M556.40,281.30V213.60H562.60V281.30" fill="#fff" stroke="#000" stroke-width="1.6"/>
<text x="559.30" y="210.20" font-family="Liberation Serif" font-size="10" text-anchor="middle" fill="#111">a</text>
<path d="M571.90,251.70V240.30M570.10,240.30H573.70" stroke="#222" stroke-width="1" fill="none"/>
<path d="M568.80,281.30V252.50H575.00V281.30" fill="#8f8cfd" stroke="#000" stroke-width="1.6"/>
<text x="571.70" y="239.10" font-family="Liberation Serif" font-size="10" text-anchor="middle" fill="#111">b</text>
<path d="M592.90,243.90V235.20M591.10,235.20H594.70" stroke="#222" stroke-width="1" fill="none"/>
<path d="M589.80,281.30V244.70H596.00V281.30" fill="#fff" stroke="#000" stroke-width="1.6"/>
<text x="592.70" y="225.80" font-family="Liberation Serif" font-size="10" text-anchor="middle" fill="#111">a</text>
<path d="M605.30,265.70V264.50M603.50,264.50H607.10" stroke="#222" stroke-width="1" fill="none"/>
<path d="M602.20,281.30V266.50H608.40V281.30" fill="#8f8cfd" stroke="#000" stroke-width="1.6"/>
<text x="605.10" y="258.60" font-family="Liberation Serif" font-size="10" text-anchor="middle" fill="#111">b</text>
<path d="M626.30,217.30V213.40M624.50,213.40H628.10" stroke="#222" stroke-width="1" fill="none"/>
<path d="M623.20,281.30V218.10H629.40V281.30" fill="#fff" stroke="#000" stroke-width="1.6"/>
<text x="626.10" y="212.40" font-family="Liberation Serif" font-size="10" text-anchor="middle" fill="#111">a</text>
<path d="M638.70,196.90V193.30M636.90,193.30H640.50" stroke="#222" stroke-width="1" fill="none"/>
<path d="M635.60,281.30V197.70H641.80V281.30" fill="#8f8cfd" stroke="#000" stroke-width="1.6"/>
<text x="638.50" y="188.70" font-family="Liberation Serif" font-size="10" text-anchor="middle" fill="#111">a</text>
<path d="M659.70,233.40V228.30M657.90,228.30H661.50" stroke="#222" stroke-width="1" fill="none"/>
<path d="M656.60,281.30V234.20H662.80V281.30" fill="#fff" stroke="#000" stroke-width="1.6"/>
<text x="659.50" y="226.10" font-family="Liberation Serif" font-size="10" text-anchor="middle" fill="#111">a</text>
<path d="M672.10,247.20V235.20M670.30,235.20H673.90" stroke="#222" stroke-width="1" fill="none"/>
<path d="M669.00,281.30V248.00H675.20V281.30" fill="#8f8cfd" stroke="#000" stroke-width="1.6"/>
<text x="671.90" y="232.20" font-family="Liberation Serif" font-size="10" text-anchor="middle" fill="#111">b</text>
<path d="M546.9,281.3H680.9" stroke="#444" stroke-width="1.2" fill="none"/>
<path d="M552.7,200.8H576.4" stroke="#111" stroke-width="2.2"/>
<path d="M561.75,193.40L561.75,197.40M560.02,194.40L563.48,196.40M563.48,194.40L560.02,196.40" stroke="#7a7a7a" stroke-width="1.15" fill="none"/><path d="M567.35,193.40L567.35,197.40M565.62,194.40L569.08,196.40M569.08,194.40L565.62,196.40" stroke="#7a7a7a" stroke-width="1.15" fill="none"/>
<text x="614.1" y="167.0" font-family="Liberation Serif" font-weight="bold" font-size="10.4" text-anchor="middle">Isocitrate</text>
<path d="M65.5,299.25V410" stroke="#3c3c3c" stroke-width="1" fill="none"/>
<path d="M62.3,299.25H65.5" stroke="#3c3c3c" stroke-width="1"/>
<text x="61.3" y="302.95" font-family="Liberation Serif" font-weight="bold" font-size="11" text-anchor="end">3<tspan font-weight="normal">×</tspan>10<tspan font-size="7" dx="1" dy="-3.6">8</tspan></text>
<path d="M62.3,336.5H65.5" stroke="#3c3c3c" stroke-width="1"/>
<text x="61.3" y="340.2" font-family="Liberation Serif" font-weight="bold" font-size="11" text-anchor="end">2<tspan font-weight="normal">×</tspan>10<tspan font-size="7" dx="1" dy="-3.6">8</tspan></text>
<path d="M62.3,373.5H65.5" stroke="#3c3c3c" stroke-width="1"/>
<text x="61.3" y="377.2" font-family="Liberation Serif" font-weight="bold" font-size="11" text-anchor="end">1<tspan font-weight="normal">×</tspan>10<tspan font-size="7" dx="1" dy="-3.6">8</tspan></text>
<path d="M62.3,410H65.5" stroke="#3c3c3c" stroke-width="1"/>
<text x="59.9" y="413.7" font-family="Liberation Serif" font-weight="bold" font-size="11" text-anchor="end">0</text>
<path d="M80.30,410v3.2" stroke="#333" stroke-width="1"/>
<path d="M113.70,410v3.2" stroke="#333" stroke-width="1"/>
<path d="M147.10,410v3.2" stroke="#333" stroke-width="1"/>
<path d="M180.50,410v3.2" stroke="#333" stroke-width="1"/>
<path d="M74.10,375.00V373.00M72.30,373.00H75.90" stroke="#222" stroke-width="1" fill="none"/>
<path d="M71.00,410.00V375.80H77.20V410.00" fill="#fff" stroke="#000" stroke-width="1.6"/>
<text x="73.90" y="368.40" font-family="Liberation Serif" font-size="10" text-anchor="middle" fill="#111">a</text>
<path d="M83.40,410.00V377.80H89.60V410.00" fill="#8f8cfd" stroke="#000" stroke-width="1.6"/>
<text x="86.30" y="373.90" font-family="Liberation Serif" font-size="10" text-anchor="middle" fill="#111">b</text>
<path d="M107.50,390.75V381.75M105.70,381.75H109.30" stroke="#222" stroke-width="1" fill="none"/>
<path d="M104.40,410.00V391.55H110.60V410.00" fill="#fff" stroke="#000" stroke-width="1.6"/>
<text x="107.30" y="378.65" font-family="Liberation Serif" font-size="10" text-anchor="middle" fill="#111">a</text>
<path d="M116.80,410.00V380.30H123.00V410.00" fill="#8f8cfd" stroke="#000" stroke-width="1.6"/>
<text x="119.70" y="375.15" font-family="Liberation Serif" font-size="10" text-anchor="middle" fill="#111">b</text>
<path d="M140.90,367.50V366.75M139.10,366.75H142.70" stroke="#222" stroke-width="1" fill="none"/>
<path d="M137.80,410.00V368.30H144.00V410.00" fill="#fff" stroke="#000" stroke-width="1.6"/>
<text x="140.70" y="364.15" font-family="Liberation Serif" font-size="10" text-anchor="middle" fill="#111">a</text>
<path d="M153.30,337.50V333.75M151.50,333.75H155.10" stroke="#222" stroke-width="1" fill="none"/>
<path d="M150.20,410.00V338.30H156.40V410.00" fill="#8f8cfd" stroke="#000" stroke-width="1.6"/>
<text x="153.10" y="330.90" font-family="Liberation Serif" font-size="10" text-anchor="middle" fill="#111">a</text>
<path d="M174.30,327.50V320.00M172.50,320.00H176.10" stroke="#222" stroke-width="1" fill="none"/>
<path d="M171.20,410.00V328.30H177.40V410.00" fill="#fff" stroke="#000" stroke-width="1.6"/>
<text x="174.10" y="316.15" font-family="Liberation Serif" font-size="10" text-anchor="middle" fill="#111">a</text>
<path d="M186.70,351.75V349.25M184.90,349.25H188.50" stroke="#222" stroke-width="1" fill="none"/>
<path d="M183.60,410.00V352.55H189.80V410.00" fill="#8f8cfd" stroke="#000" stroke-width="1.6"/>
<text x="186.50" y="344.95" font-family="Liberation Serif" font-size="10" text-anchor="middle" fill="#111">ab</text>
<path d="M61.5,410H195.5" stroke="#444" stroke-width="1.2" fill="none"/>
<text x="129.5" y="294.85" font-family="Liberation Serif" font-weight="bold" font-size="10.4" text-anchor="middle">Maleic acid</text>
<text transform="translate(83.30,422.30) rotate(-45)" font-family="Liberation Serif" font-weight="bold" font-size="10.4" text-anchor="end">Control</text>
<text transform="translate(116.70,422.30) rotate(-45)" font-family="Liberation Serif" font-weight="bold" font-size="10.4" text-anchor="end">NaCl</text>
<text transform="translate(150.10,422.30) rotate(-45)" font-family="Liberation Serif" font-weight="bold" font-size="10.4" text-anchor="end">Na<tspan font-size="7.6" dy="2.2">2</tspan><tspan dy="-2.2">CO</tspan><tspan font-size="7.6" dy="2.2">3</tspan></text>
<text transform="translate(183.50,422.30) rotate(-45)" font-family="Liberation Serif" font-weight="bold" font-size="10.4" text-anchor="end">NaHCO<tspan font-size="7.6" dy="2.2">3</tspan></text>
<path d="M227,302V411.25" stroke="#3c3c3c" stroke-width="1" fill="none"/>
<path d="M223.8,302H227" stroke="#3c3c3c" stroke-width="1"/>
<text x="222.8" y="305.7" font-family="Liberation Serif" font-weight="bold" font-size="11" text-anchor="end">3<tspan font-weight="normal">×</tspan>10<tspan font-size="7" dx="1" dy="-3.6">8</tspan></text>
<path d="M223.8,338.25H227" stroke="#3c3c3c" stroke-width="1"/>
<text x="222.8" y="341.95" font-family="Liberation Serif" font-weight="bold" font-size="11" text-anchor="end">2<tspan font-weight="normal">×</tspan>10<tspan font-size="7" dx="1" dy="-3.6">8</tspan></text>
<path d="M223.8,375H227" stroke="#3c3c3c" stroke-width="1"/>
<text x="222.8" y="378.7" font-family="Liberation Serif" font-weight="bold" font-size="11" text-anchor="end">1<tspan font-weight="normal">×</tspan>10<tspan font-size="7" dx="1" dy="-3.6">8</tspan></text>
<path d="M223.8,411.25H227" stroke="#3c3c3c" stroke-width="1"/>
<text x="221.4" y="414.95" font-family="Liberation Serif" font-weight="bold" font-size="11" text-anchor="end">0</text>
<path d="M241.80,411.25v3.2" stroke="#333" stroke-width="1"/>
<path d="M275.20,411.25v3.2" stroke="#333" stroke-width="1"/>
<path d="M308.60,411.25v3.2" stroke="#333" stroke-width="1"/>
<path d="M342.00,411.25v3.2" stroke="#333" stroke-width="1"/>
<path d="M235.60,368.00V363.75M233.80,363.75H237.40" stroke="#222" stroke-width="1" fill="none"/>
<path d="M232.50,411.25V368.80H238.70V411.25" fill="#fff" stroke="#000" stroke-width="1.6"/>
<text x="235.40" y="360.90" font-family="Liberation Serif" font-size="10" text-anchor="middle" fill="#111">c</text>
<path d="M248.00,398.00V396.25M246.20,396.25H249.80" stroke="#222" stroke-width="1" fill="none"/>
<path d="M244.90,411.25V398.80H251.10V411.25" fill="#8f8cfd" stroke="#000" stroke-width="1.6"/>
<text x="247.80" y="392.15" font-family="Liberation Serif" font-size="10" text-anchor="middle" fill="#111">c</text>
<path d="M269.00,398.00V396.50M267.20,396.50H270.80" stroke="#222" stroke-width="1" fill="none"/>
<path d="M265.90,411.25V398.80H272.10V411.25" fill="#fff" stroke="#000" stroke-width="1.6"/>
<text x="268.80" y="393.15" font-family="Liberation Serif" font-size="10" text-anchor="middle" fill="#111">d</text>
<path d="M281.40,398.75V398.00M279.60,398.00H283.20" stroke="#222" stroke-width="1" fill="none"/>
<path d="M278.30,411.25V399.55H284.50V411.25" fill="#8f8cfd" stroke="#000" stroke-width="1.6"/>
<text x="281.20" y="392.15" font-family="Liberation Serif" font-size="10" text-anchor="middle" fill="#111">c</text>
<path d="M302.40,320.00V317.50M300.60,317.50H304.20" stroke="#222" stroke-width="1" fill="none"/>
<path d="M299.30,411.25V320.80H305.50V411.25" fill="#fff" stroke="#000" stroke-width="1.6"/>
<text x="302.20" y="315.40" font-family="Liberation Serif" font-size="10" text-anchor="middle" fill="#111">a</text>
<path d="M314.80,391.25V388.00M313.00,388.00H316.60" stroke="#222" stroke-width="1" fill="none"/>
<path d="M311.70,411.25V392.05H317.90V411.25" fill="#8f8cfd" stroke="#000" stroke-width="1.6"/>
<text x="314.60" y="386.40" font-family="Liberation Serif" font-size="10" text-anchor="middle" fill="#111">b</text>
<path d="M335.80,358.00V351.25M334.00,351.25H337.60" stroke="#222" stroke-width="1" fill="none"/>
<path d="M332.70,411.25V358.80H338.90V411.25" fill="#fff" stroke="#000" stroke-width="1.6"/>
<text x="335.60" y="349.40" font-family="Liberation Serif" font-size="10" text-anchor="middle" fill="#111">b</text>
<path d="M348.20,350.75V349.50M346.40,349.50H350.00" stroke="#222" stroke-width="1" fill="none"/>
<path d="M345.10,411.25V351.55H351.30V411.25" fill="#8f8cfd" stroke="#000" stroke-width="1.6"/>
<text x="348.00" y="344.65" font-family="Liberation Serif" font-size="10" text-anchor="middle" fill="#111">a</text>
<path d="M223,411.25H357" stroke="#444" stroke-width="1.2" fill="none"/>
<path d="M231.25,352H255" stroke="#111" stroke-width="1.55"/>
<path d="M237.53,345.00L237.53,349.00M235.79,346.00L239.26,348.00M239.26,346.00L235.79,348.00" stroke="#7a7a7a" stroke-width="1.15" fill="none"/><path d="M243.12,345.00L243.12,349.00M241.39,346.00L244.86,348.00M244.86,346.00L241.39,348.00" stroke="#7a7a7a" stroke-width="1.15" fill="none"/><path d="M248.72,345.00L248.72,349.00M246.99,346.00L250.46,348.00M250.46,346.00L246.99,348.00" stroke="#7a7a7a" stroke-width="1.15" fill="none"/>
<path d="M296.25,307.5H319.5" stroke="#111" stroke-width="1.55"/>
<path d="M302.27,301.00L302.27,305.00M300.54,302.00L304.01,304.00M304.01,302.00L300.54,304.00" stroke="#7a7a7a" stroke-width="1.15" fill="none"/><path d="M307.88,301.00L307.88,305.00M306.14,302.00L309.61,304.00M309.61,302.00L306.14,304.00" stroke="#7a7a7a" stroke-width="1.15" fill="none"/><path d="M313.47,301.00L313.47,305.00M311.74,302.00L315.21,304.00M315.21,302.00L311.74,304.00" stroke="#7a7a7a" stroke-width="1.15" fill="none"/>
<text x="291.75" y="296.1" font-family="Liberation Serif" font-weight="bold" font-size="10.4" text-anchor="middle">L-Malic acid</text>
<text transform="translate(244.80,423.55) rotate(-45)" font-family="Liberation Serif" font-weight="bold" font-size="10.4" text-anchor="end">Control</text>
<text transform="translate(278.20,423.55) rotate(-45)" font-family="Liberation Serif" font-weight="bold" font-size="10.4" text-anchor="end">NaCl</text>
<text transform="translate(311.60,423.55) rotate(-45)" font-family="Liberation Serif" font-weight="bold" font-size="10.4" text-anchor="end">Na<tspan font-size="7.6" dy="2.2">2</tspan><tspan dy="-2.2">CO</tspan><tspan font-size="7.6" dy="2.2">3</tspan></text>
<text transform="translate(345.00,423.55) rotate(-45)" font-family="Liberation Serif" font-weight="bold" font-size="10.4" text-anchor="end">NaHCO<tspan font-size="7.6" dy="2.2">3</tspan></text>
<path d="M387.5,299.5V410" stroke="#3c3c3c" stroke-width="1" fill="none"/>
<path d="M384.3,299.5H387.5" stroke="#3c3c3c" stroke-width="1"/>
<text x="383.3" y="303.2" font-family="Liberation Serif" font-weight="bold" font-size="11" text-anchor="end">4<tspan font-weight="normal">×</tspan>10<tspan font-size="7" dx="1" dy="-3.6">7</tspan></text>
<path d="M384.3,327.5H387.5" stroke="#3c3c3c" stroke-width="1"/>
<text x="383.3" y="331.2" font-family="Liberation Serif" font-weight="bold" font-size="11" text-anchor="end">3<tspan font-weight="normal">×</tspan>10<tspan font-size="7" dx="1" dy="-3.6">7</tspan></text>
<path d="M384.3,355H387.5" stroke="#3c3c3c" stroke-width="1"/>
<text x="383.3" y="358.7" font-family="Liberation Serif" font-weight="bold" font-size="11" text-anchor="end">2<tspan font-weight="normal">×</tspan>10<tspan font-size="7" dx="1" dy="-3.6">7</tspan></text>
<path d="M384.3,382.5H387.5" stroke="#3c3c3c" stroke-width="1"/>
<text x="383.3" y="386.2" font-family="Liberation Serif" font-weight="bold" font-size="11" text-anchor="end">1<tspan font-weight="normal">×</tspan>10<tspan font-size="7" dx="1" dy="-3.6">7</tspan></text>
<path d="M384.3,410H387.5" stroke="#3c3c3c" stroke-width="1"/>
<text x="381.9" y="413.7" font-family="Liberation Serif" font-weight="bold" font-size="11" text-anchor="end">0</text>
<path d="M402.30,410v3.2" stroke="#333" stroke-width="1"/>
<path d="M435.70,410v3.2" stroke="#333" stroke-width="1"/>
<path d="M469.10,410v3.2" stroke="#333" stroke-width="1"/>
<path d="M502.50,410v3.2" stroke="#333" stroke-width="1"/>
<path d="M396.10,357.50V351.25M394.30,351.25H397.90" stroke="#222" stroke-width="1" fill="none"/>
<path d="M393.00,410.00V358.30H399.20V410.00" fill="#fff" stroke="#000" stroke-width="1.6"/>
<text x="395.90" y="349.15" font-family="Liberation Serif" font-size="10" text-anchor="middle" fill="#111">c</text>
<path d="M408.50,336.25V330.75M406.70,330.75H410.30" stroke="#222" stroke-width="1" fill="none"/>
<path d="M405.40,410.00V337.05H411.60V410.00" fill="#8f8cfd" stroke="#000" stroke-width="1.6"/>
<text x="408.30" y="329.95" font-family="Liberation Serif" font-size="10" text-anchor="middle" fill="#111">ab</text>
<path d="M429.50,362.00V353.75M427.70,353.75H431.30" stroke="#222" stroke-width="1" fill="none"/>
<path d="M426.40,410.00V362.80H432.60V410.00" fill="#fff" stroke="#000" stroke-width="1.6"/>
<text x="429.30" y="350.15" font-family="Liberation Serif" font-size="10" text-anchor="middle" fill="#111">b</text>
<path d="M441.90,355.00V350.00M440.10,350.00H443.70" stroke="#222" stroke-width="1" fill="none"/>
<path d="M438.80,410.00V355.80H445.00V410.00" fill="#8f8cfd" stroke="#000" stroke-width="1.6"/>
<text x="441.70" y="348.90" font-family="Liberation Serif" font-size="10" text-anchor="middle" fill="#111">b</text>
<path d="M462.90,343.75V340.50M461.10,340.50H464.70" stroke="#222" stroke-width="1" fill="none"/>
<path d="M459.80,410.00V344.55H466.00V410.00" fill="#fff" stroke="#000" stroke-width="1.6"/>
<text x="462.70" y="336.65" font-family="Liberation Serif" font-size="10" text-anchor="middle" fill="#111">a</text>
<path d="M475.30,327.50V321.75M473.50,321.75H477.10" stroke="#222" stroke-width="1" fill="none"/>
<path d="M472.20,410.00V328.30H478.40V410.00" fill="#8f8cfd" stroke="#000" stroke-width="1.6"/>
<text x="475.10" y="318.65" font-family="Liberation Serif" font-size="10" text-anchor="middle" fill="#111">a</text>
<path d="M496.30,336.00V330.90M494.50,330.90H498.10" stroke="#222" stroke-width="1" fill="none"/>
<path d="M493.20,410.00V336.80H499.40V410.00" fill="#fff" stroke="#000" stroke-width="1.6"/>
<text x="496.10" y="329.30" font-family="Liberation Serif" font-size="10" text-anchor="middle" fill="#111">a</text>
<path d="M508.70,347.30V335.40M506.90,335.40H510.50" stroke="#222" stroke-width="1" fill="none"/>
<path d="M505.60,410.00V348.10H511.80V410.00" fill="#8f8cfd" stroke="#000" stroke-width="1.6"/>
<text x="508.50" y="330.70" font-family="Liberation Serif" font-size="10" text-anchor="middle" fill="#111">bc</text>
<path d="M383.5,410H517.5" stroke="#444" stroke-width="1.2" fill="none"/>
<path d="M391.25,320H415" stroke="#111" stroke-width="2.2"/>
<path d="M397.52,312.50L397.52,316.50M395.79,313.50L399.26,315.50M399.26,313.50L395.79,315.50" stroke="#7a7a7a" stroke-width="1.15" fill="none"/><path d="M403.12,312.50L403.12,316.50M401.39,313.50L404.86,315.50M404.86,313.50L401.39,315.50" stroke="#7a7a7a" stroke-width="1.15" fill="none"/><path d="M408.72,312.50L408.72,316.50M406.99,313.50L410.46,315.50M410.46,313.50L406.99,315.50" stroke="#7a7a7a" stroke-width="1.15" fill="none"/>
<path d="M456.25,311.25H480" stroke="#111" stroke-width="1.55"/>
<path d="M462.52,303.75L462.52,307.75M460.79,304.75L464.26,306.75M464.26,304.75L460.79,306.75" stroke="#7a7a7a" stroke-width="1.15" fill="none"/><path d="M468.12,303.75L468.12,307.75M466.39,304.75L469.86,306.75M469.86,304.75L466.39,306.75" stroke="#7a7a7a" stroke-width="1.15" fill="none"/><path d="M473.72,303.75L473.72,307.75M471.99,304.75L475.46,306.75M475.46,304.75L471.99,306.75" stroke="#7a7a7a" stroke-width="1.15" fill="none"/>
<text x="452" y="294.85" font-family="Liberation Serif" font-weight="bold" font-size="10.4" text-anchor="middle">Fumarate</text>
<text transform="translate(405.30,422.30) rotate(-45)" font-family="Liberation Serif" font-weight="bold" font-size="10.4" text-anchor="end">Control</text>
<text transform="translate(438.70,422.30) rotate(-45)" font-family="Liberation Serif" font-weight="bold" font-size="10.4" text-anchor="end">NaCl</text>
<text transform="translate(472.10,422.30) rotate(-45)" font-family="Liberation Serif" font-weight="bold" font-size="10.4" text-anchor="end">Na<tspan font-size="7.6" dy="2.2">2</tspan><tspan dy="-2.2">CO</tspan><tspan font-size="7.6" dy="2.2">3</tspan></text>
<text transform="translate(505.50,422.30) rotate(-45)" font-family="Liberation Serif" font-weight="bold" font-size="10.4" text-anchor="end">NaHCO<tspan font-size="7.6" dy="2.2">3</tspan></text>
<path d="M549.7,300.4V409.6" stroke="#3c3c3c" stroke-width="1" fill="none"/>
<path d="M546.5,300.4H549.7" stroke="#3c3c3c" stroke-width="1"/>
<text x="545.5" y="304.09999999999997" font-family="Liberation Serif" font-weight="bold" font-size="11" text-anchor="end">8<tspan font-weight="normal">×</tspan>10<tspan font-size="7" dx="1" dy="-3.6">7</tspan></text>
<path d="M546.5,327.3H549.7" stroke="#3c3c3c" stroke-width="1"/>
<text x="545.5" y="331.0" font-family="Liberation Serif" font-weight="bold" font-size="11" text-anchor="end">6<tspan font-weight="normal">×</tspan>10<tspan font-size="7" dx="1" dy="-3.6">7</tspan></text>
<path d="M546.5,354.8H549.7" stroke="#3c3c3c" stroke-width="1"/>
<text x="545.5" y="358.5" font-family="Liberation Serif" font-weight="bold" font-size="11" text-anchor="end">4<tspan font-weight="normal">×</tspan>10<tspan font-size="7" dx="1" dy="-3.6">7</tspan></text>
<path d="M546.5,382.4H549.7" stroke="#3c3c3c" stroke-width="1"/>
<text x="545.5" y="386.09999999999997" font-family="Liberation Serif" font-weight="bold" font-size="11" text-anchor="end">2<tspan font-weight="normal">×</tspan>10<tspan font-size="7" dx="1" dy="-3.6">7</tspan></text>
<path d="M546.5,409.6H549.7" stroke="#3c3c3c" stroke-width="1"/>
<text x="544.1" y="413.3" font-family="Liberation Serif" font-weight="bold" font-size="11" text-anchor="end">0</text>
<path d="M564.50,409.6v3.2" stroke="#333" stroke-width="1"/>
<path d="M597.90,409.6v3.2" stroke="#333" stroke-width="1"/>
<path d="M631.30,409.6v3.2" stroke="#333" stroke-width="1"/>
<path d="M664.70,409.6v3.2" stroke="#333" stroke-width="1"/>
<path d="M558.30,363.20V357.80M556.50,357.80H560.10" stroke="#222" stroke-width="1" fill="none"/>
<path d="M555.20,409.60V364.00H561.40V409.60" fill="#fff" stroke="#000" stroke-width="1.6"/>
<text x="558.10" y="351.10" font-family="Liberation Serif" font-size="10" text-anchor="middle" fill="#111">a</text>
<path d="M570.70,360.20V357.80M568.90,357.80H572.50" stroke="#222" stroke-width="1" fill="none"/>
<path d="M567.60,409.60V361.00H573.80V409.60" fill="#8f8cfd" stroke="#000" stroke-width="1.6"/>
<text x="570.50" y="351.70" font-family="Liberation Serif" font-size="10" text-anchor="middle" fill="#111">a</text>
<path d="M591.70,376.40V371.30M589.90,371.30H593.50" stroke="#222" stroke-width="1" fill="none"/>
<path d="M588.60,409.60V377.20H594.80V409.60" fill="#fff" stroke="#000" stroke-width="1.6"/>
<text x="591.50" y="366.10" font-family="Liberation Serif" font-size="10" text-anchor="middle" fill="#111">a</text>
<path d="M604.10,345.20V318.90M602.30,318.90H605.90" stroke="#222" stroke-width="1" fill="none"/>
<path d="M601.00,409.60V346.00H607.20V409.60" fill="#8f8cfd" stroke="#000" stroke-width="1.6"/>
<text x="603.90" y="315.80" font-family="Liberation Serif" font-size="10" text-anchor="middle" fill="#111">a</text>
<path d="M625.10,371.30V360.80M623.30,360.80H626.90" stroke="#222" stroke-width="1" fill="none"/>
<path d="M622.00,409.60V372.10H628.20V409.60" fill="#fff" stroke="#000" stroke-width="1.6"/>
<text x="624.90" y="358.30" font-family="Liberation Serif" font-size="10" text-anchor="middle" fill="#111">a</text>
<path d="M637.50,349.40V345.80M635.70,345.80H639.30" stroke="#222" stroke-width="1" fill="none"/>
<path d="M634.40,409.60V350.20H640.60V409.60" fill="#8f8cfd" stroke="#000" stroke-width="1.6"/>
<text x="637.30" y="342.20" font-family="Liberation Serif" font-size="10" text-anchor="middle" fill="#111">a</text>
<path d="M658.50,385.40V380.30M656.70,380.30H660.30" stroke="#222" stroke-width="1" fill="none"/>
<path d="M655.40,409.60V386.20H661.60V409.60" fill="#fff" stroke="#000" stroke-width="1.6"/>
<text x="658.30" y="374.20" font-family="Liberation Serif" font-size="10" text-anchor="middle" fill="#111">a</text>
<path d="M670.90,357.20V346.70M669.10,346.70H672.70" stroke="#222" stroke-width="1" fill="none"/>
<path d="M667.80,409.60V358.00H674.00V409.60" fill="#8f8cfd" stroke="#000" stroke-width="1.6"/>
<text x="670.70" y="342.80" font-family="Liberation Serif" font-size="10" text-anchor="middle" fill="#111">a</text>
<path d="M545.7,409.6H679.7" stroke="#444" stroke-width="1.2" fill="none"/>
<path d="M649.1,334.8H672.2" stroke="#111" stroke-width="1.55"/>
<path d="M657.85,327.40L657.85,331.40M656.12,328.40L659.58,330.40M659.58,328.40L656.12,330.40" stroke="#7a7a7a" stroke-width="1.15" fill="none"/><path d="M663.45,327.40L663.45,331.40M661.72,328.40L665.18,330.40M665.18,328.40L661.72,330.40" stroke="#7a7a7a" stroke-width="1.15" fill="none"/>
<text x="613.2" y="295.0" font-family="Liberation Serif" font-weight="bold" font-size="10.4" text-anchor="middle">Glutaric acid</text>
<text transform="translate(567.50,421.90) rotate(-45)" font-family="Liberation Serif" font-weight="bold" font-size="10.4" text-anchor="end">Control</text>
<text transform="translate(600.90,421.90) rotate(-45)" font-family="Liberation Serif" font-weight="bold" font-size="10.4" text-anchor="end">NaCl</text>
<text transform="translate(634.30,421.90) rotate(-45)" font-family="Liberation Serif" font-weight="bold" font-size="10.4" text-anchor="end">Na<tspan font-size="7.6" dy="2.2">2</tspan><tspan dy="-2.2">CO</tspan><tspan font-size="7.6" dy="2.2">3</tspan></text>
<text transform="translate(667.70,421.90) rotate(-45)" font-family="Liberation Serif" font-weight="bold" font-size="10.4" text-anchor="end">NaHCO<tspan font-size="7.6" dy="2.2">3</tspan></text>
<path d="M152,488.25V598.75" stroke="#3c3c3c" stroke-width="1" fill="none"/>
<path d="M148.8,488.25H152" stroke="#3c3c3c" stroke-width="1"/>
<text x="146.4" y="491.95" font-family="Liberation Serif" font-weight="bold" font-size="11" text-anchor="end">4</text>
<path d="M148.8,516.25H152" stroke="#3c3c3c" stroke-width="1"/>
<text x="146.4" y="519.95" font-family="Liberation Serif" font-weight="bold" font-size="11" text-anchor="end">3</text>
<path d="M148.8,543.75H152" stroke="#3c3c3c" stroke-width="1"/>
<text x="146.4" y="547.45" font-family="Liberation Serif" font-weight="bold" font-size="11" text-anchor="end">2</text>
<path d="M148.8,571.25H152" stroke="#3c3c3c" stroke-width="1"/>
<text x="146.4" y="574.95" font-family="Liberation Serif" font-weight="bold" font-size="11" text-anchor="end">1</text>
<path d="M148.8,598.75H152" stroke="#3c3c3c" stroke-width="1"/>
<text x="146.4" y="602.45" font-family="Liberation Serif" font-weight="bold" font-size="11" text-anchor="end">0</text>
<path d="M173.70,598.75v3.2" stroke="#333" stroke-width="1"/>
<path d="M223.90,598.75v3.2" stroke="#333" stroke-width="1"/>
<path d="M274.10,598.75v3.2" stroke="#333" stroke-width="1"/>
<path d="M324.30,598.75v3.2" stroke="#333" stroke-width="1"/>
<path d="M164.40,571.25V566.25M161.30,566.25H167.50" stroke="#222" stroke-width="1" fill="none"/>
<path d="M159.30,598.75V572.25H169.50V598.75" fill="#fff" stroke="#000" stroke-width="2.0"/>
<text x="164.20" y="564.40" font-family="Liberation Serif" font-size="10.5" text-anchor="middle" fill="#111">d</text>
<path d="M183.00,590.75V589.50M179.90,589.50H186.10" stroke="#222" stroke-width="1" fill="none"/>
<path d="M177.90,598.75V591.75H188.10V598.75" fill="#fcc07e" stroke="#000" stroke-width="2.0"/>
<text x="182.80" y="589.40" font-family="Liberation Serif" font-size="10.5" text-anchor="middle" fill="#111">b</text>
<path d="M214.60,540.00V538.75M211.50,538.75H217.70" stroke="#222" stroke-width="1" fill="none"/>
<path d="M209.50,598.75V541.00H219.70V598.75" fill="#fff" stroke="#000" stroke-width="2.0"/>
<text x="214.40" y="535.90" font-family="Liberation Serif" font-size="10.5" text-anchor="middle" fill="#111">c</text>
<path d="M233.20,552.00V542.50M230.10,542.50H236.30" stroke="#222" stroke-width="1" fill="none"/>
<path d="M228.10,598.75V553.00H238.30V598.75" fill="#fcc07e" stroke="#000" stroke-width="2.0"/>
<text x="233.00" y="539.15" font-family="Liberation Serif" font-size="10.5" text-anchor="middle" fill="#111">a</text>
<path d="M264.80,509.25V497.50M261.70,497.50H267.90" stroke="#222" stroke-width="1" fill="none"/>
<path d="M259.70,598.75V510.25H269.90V598.75" fill="#fff" stroke="#000" stroke-width="2.0"/>
<text x="264.60" y="495.40" font-family="Liberation Serif" font-size="10.5" text-anchor="middle" fill="#111">a</text>
<path d="M283.40,546.75V536.25M280.30,536.25H286.50" stroke="#222" stroke-width="1" fill="none"/>
<path d="M278.30,598.75V547.75H288.50V598.75" fill="#fcc07e" stroke="#000" stroke-width="2.0"/>
<text x="283.20" y="533.65" font-family="Liberation Serif" font-size="10.5" text-anchor="middle" fill="#111">a</text>
<path d="M315.00,535.50V526.25M311.90,526.25H318.10" stroke="#222" stroke-width="1" fill="none"/>
<path d="M309.90,598.75V536.50H320.10V598.75" fill="#fff" stroke="#000" stroke-width="2.0"/>
<text x="314.80" y="525.15" font-family="Liberation Serif" font-size="10.5" text-anchor="middle" fill="#111">b</text>
<path d="M333.60,553.00V544.25M330.50,544.25H336.70" stroke="#222" stroke-width="1" fill="none"/>
<path d="M328.50,598.75V554.00H338.70V598.75" fill="#fcc07e" stroke="#000" stroke-width="2.0"/>
<text x="333.40" y="540.90" font-family="Liberation Serif" font-size="10.5" text-anchor="middle" fill="#111">a</text>
<path d="M148,598.75H348" stroke="#444" stroke-width="1.2" fill="none"/>
<path d="M156.25,556.25H180.75" stroke="#111" stroke-width="1.55"/>
<path d="M162.90,548.50L162.90,552.50M161.17,549.50L164.63,551.50M164.63,549.50L161.17,551.50" stroke="#7a7a7a" stroke-width="1.15" fill="none"/><path d="M168.50,548.50L168.50,552.50M166.77,549.50L170.23,551.50M170.23,549.50L166.77,551.50" stroke="#7a7a7a" stroke-width="1.15" fill="none"/><path d="M174.10,548.50L174.10,552.50M172.37,549.50L175.83,551.50M175.83,549.50L172.37,551.50" stroke="#7a7a7a" stroke-width="1.15" fill="none"/>
<path d="M209.5,526.25H233" stroke="#111" stroke-width="1.55"/>
<path d="M215.65,519.25L215.65,523.25M213.92,520.25L217.38,522.25M217.38,520.25L213.92,522.25" stroke="#7a7a7a" stroke-width="1.15" fill="none"/><path d="M221.25,519.25L221.25,523.25M219.52,520.25L222.98,522.25M222.98,520.25L219.52,522.25" stroke="#7a7a7a" stroke-width="1.15" fill="none"/><path d="M226.85,519.25L226.85,523.25M225.12,520.25L228.58,522.25M228.58,520.25L225.12,522.25" stroke="#7a7a7a" stroke-width="1.15" fill="none"/>
<path d="M259.5,485.5H283" stroke="#111" stroke-width="1.55"/>
<path d="M268.45,478.00L268.45,482.00M266.72,479.00L270.18,481.00M270.18,479.00L266.72,481.00" stroke="#7a7a7a" stroke-width="1.15" fill="none"/><path d="M274.05,478.00L274.05,482.00M272.32,479.00L275.78,481.00M275.78,479.00L272.32,481.00" stroke="#7a7a7a" stroke-width="1.15" fill="none"/>
<path d="M312,512H335.75" stroke="#111" stroke-width="1.55"/>
<path d="M318.27,505.00L318.27,509.00M316.54,506.00L320.01,508.00M320.01,506.00L316.54,508.00" stroke="#7a7a7a" stroke-width="1.15" fill="none"/><path d="M323.88,505.00L323.88,509.00M322.14,506.00L325.61,508.00M325.61,506.00L322.14,508.00" stroke="#7a7a7a" stroke-width="1.15" fill="none"/><path d="M329.47,505.00L329.47,509.00M327.74,506.00L331.21,508.00M331.21,506.00L327.74,508.00" stroke="#7a7a7a" stroke-width="1.15" fill="none"/>
<text x="254.75" y="476.8" font-family="Liberation Serif" font-style="italic" font-size="10.6" text-anchor="middle" fill="#333">OsMS</text>
<text transform="translate(176.70,611.05) rotate(-45)" font-family="Liberation Serif" font-weight="bold" font-size="10.4" text-anchor="end">Control</text>
<text transform="translate(226.90,611.05) rotate(-45)" font-family="Liberation Serif" font-weight="bold" font-size="10.4" text-anchor="end">NaCl</text>
<text transform="translate(277.10,611.05) rotate(-45)" font-family="Liberation Serif" font-weight="bold" font-size="10.4" text-anchor="end">Na<tspan font-size="7.6" dy="2.2">2</tspan><tspan dy="-2.2">CO</tspan><tspan font-size="7.6" dy="2.2">3</tspan></text>
<text transform="translate(327.30,611.05) rotate(-45)" font-family="Liberation Serif" font-weight="bold" font-size="10.4" text-anchor="end">NaHCO<tspan font-size="7.6" dy="2.2">3</tspan></text>
<path d="M388.5,487.75V597.9" stroke="#3c3c3c" stroke-width="1" fill="none"/>
<path d="M385.3,487.75H388.5" stroke="#3c3c3c" stroke-width="1"/>
<text x="382.9" y="491.45" font-family="Liberation Serif" font-weight="bold" font-size="11" text-anchor="end">40</text>
<path d="M385.3,515.5H388.5" stroke="#3c3c3c" stroke-width="1"/>
<text x="382.9" y="519.2" font-family="Liberation Serif" font-weight="bold" font-size="11" text-anchor="end">30</text>
<path d="M385.3,542.75H388.5" stroke="#3c3c3c" stroke-width="1"/>
<text x="382.9" y="546.45" font-family="Liberation Serif" font-weight="bold" font-size="11" text-anchor="end">20</text>
<path d="M385.3,570.4H388.5" stroke="#3c3c3c" stroke-width="1"/>
<text x="382.9" y="574.1" font-family="Liberation Serif" font-weight="bold" font-size="11" text-anchor="end">10</text>
<path d="M385.3,597.9H388.5" stroke="#3c3c3c" stroke-width="1"/>
<text x="382.9" y="601.6" font-family="Liberation Serif" font-weight="bold" font-size="11" text-anchor="end">0</text>
<path d="M411.10,597.9v3.2" stroke="#333" stroke-width="1"/>
<path d="M461.30,597.9v3.2" stroke="#333" stroke-width="1"/>
<path d="M511.50,597.9v3.2" stroke="#333" stroke-width="1"/>
<path d="M561.70,597.9v3.2" stroke="#333" stroke-width="1"/>
<path d="M396.70,597.90V596.00H406.90V597.90" fill="#fff" stroke="#000" stroke-width="2.0"/>
<text x="401.60" y="590.65" font-family="Liberation Serif" font-size="10.5" text-anchor="middle" fill="#111">d</text>
<path d="M415.30,597.90V598.20H425.50V597.90" fill="#fcc07e" stroke="#000" stroke-width="2.0"/>
<text x="420.20" y="594.40" font-family="Liberation Serif" font-size="10.5" text-anchor="middle" fill="#111">d</text>
<path d="M452.00,580.00V579.25M448.90,579.25H455.10" stroke="#222" stroke-width="1" fill="none"/>
<path d="M446.90,597.90V581.00H457.10V597.90" fill="#fff" stroke="#000" stroke-width="2.0"/>
<text x="451.80" y="575.90" font-family="Liberation Serif" font-size="10.5" text-anchor="middle" fill="#111">c</text>
<path d="M470.60,583.25V581.25M467.50,581.25H473.70" stroke="#222" stroke-width="1" fill="none"/>
<path d="M465.50,597.90V584.25H475.70V597.90" fill="#fcc07e" stroke="#000" stroke-width="2.0"/>
<text x="470.40" y="577.45" font-family="Liberation Serif" font-size="10.5" text-anchor="middle" fill="#111">ab</text>
<path d="M502.20,510.75V503.75M499.10,503.75H505.30" stroke="#222" stroke-width="1" fill="none"/>
<path d="M497.10,597.90V511.75H507.30V597.90" fill="#fff" stroke="#000" stroke-width="2.0"/>
<text x="502.00" y="501.65" font-family="Liberation Serif" font-size="10.5" text-anchor="middle" fill="#111">a</text>
<path d="M520.80,579.50V576.25M517.70,576.25H523.90" stroke="#222" stroke-width="1" fill="none"/>
<path d="M515.70,597.90V580.50H525.90V597.90" fill="#fcc07e" stroke="#000" stroke-width="2.0"/>
<text x="520.60" y="572.90" font-family="Liberation Serif" font-size="10.5" text-anchor="middle" fill="#111">a</text>
<path d="M552.40,577.50V575.75M549.30,575.75H555.50" stroke="#222" stroke-width="1" fill="none"/>
<path d="M547.30,597.90V578.50H557.50V597.90" fill="#fff" stroke="#000" stroke-width="2.0"/>
<text x="552.20" y="573.90" font-family="Liberation Serif" font-size="10.5" text-anchor="middle" fill="#111">b</text>
<path d="M571.00,584.25V582.00M567.90,582.00H574.10" stroke="#222" stroke-width="1" fill="none"/>
<path d="M565.90,597.90V585.25H576.10V597.90" fill="#fcc07e" stroke="#000" stroke-width="2.0"/>
<text x="570.80" y="579.15" font-family="Liberation Serif" font-size="10.5" text-anchor="middle" fill="#111">c</text>
<path d="M384.5,597.9H584.5" stroke="#444" stroke-width="1.2" fill="none"/>
<path d="M396.25,581.75H419.5" stroke="#111" stroke-width="1.55"/>
<path d="M405.07,574.25L405.07,578.25M403.34,575.25L406.81,577.25M406.81,575.25L403.34,577.25" stroke="#7a7a7a" stroke-width="1.15" fill="none"/><path d="M410.68,574.25L410.68,578.25M408.94,575.25L412.41,577.25M412.41,575.25L408.94,577.25" stroke="#7a7a7a" stroke-width="1.15" fill="none"/>
<path d="M447,565H470.5" stroke="#111" stroke-width="1.55"/>
<path d="M453.15,558.00L453.15,562.00M451.42,559.00L454.88,561.00M454.88,559.00L451.42,561.00" stroke="#7a7a7a" stroke-width="1.15" fill="none"/><path d="M458.75,558.00L458.75,562.00M457.02,559.00L460.48,561.00M460.48,559.00L457.02,561.00" stroke="#7a7a7a" stroke-width="1.15" fill="none"/><path d="M464.35,558.00L464.35,562.00M462.62,559.00L466.08,561.00M466.08,559.00L462.62,561.00" stroke="#7a7a7a" stroke-width="1.15" fill="none"/>
<path d="M496.25,492H519.5" stroke="#111" stroke-width="1.55"/>
<path d="M502.27,484.25L502.27,488.25M500.54,485.25L504.01,487.25M504.01,485.25L500.54,487.25" stroke="#7a7a7a" stroke-width="1.15" fill="none"/><path d="M507.88,484.25L507.88,488.25M506.14,485.25L509.61,487.25M509.61,485.25L506.14,487.25" stroke="#7a7a7a" stroke-width="1.15" fill="none"/><path d="M513.48,484.25L513.48,488.25M511.74,485.25L515.21,487.25M515.21,485.25L511.74,487.25" stroke="#7a7a7a" stroke-width="1.15" fill="none"/>
<path d="M550.25,565H574" stroke="#111" stroke-width="1.55"/>
<path d="M559.33,558.00L559.33,562.00M557.59,559.00L561.06,561.00M561.06,559.00L557.59,561.00" stroke="#7a7a7a" stroke-width="1.15" fill="none"/><path d="M564.93,558.00L564.93,562.00M563.19,559.00L566.66,561.00M566.66,559.00L563.19,561.00" stroke="#7a7a7a" stroke-width="1.15" fill="none"/>
<text x="495.5" y="480.05" font-family="Liberation Serif" font-style="italic" font-size="10.6" text-anchor="middle" fill="#333">OsICL</text>
<text transform="translate(414.10,610.20) rotate(-45)" font-family="Liberation Serif" font-weight="bold" font-size="10.4" text-anchor="end">Control</text>
<text transform="translate(464.30,610.20) rotate(-45)" font-family="Liberation Serif" font-weight="bold" font-size="10.4" text-anchor="end">NaCl</text>
<text transform="translate(514.50,610.20) rotate(-45)" font-family="Liberation Serif" font-weight="bold" font-size="10.4" text-anchor="end">Na<tspan font-size="7.6" dy="2.2">2</tspan><tspan dy="-2.2">CO</tspan><tspan font-size="7.6" dy="2.2">3</tspan></text>
<text transform="translate(564.70,610.20) rotate(-45)" font-family="Liberation Serif" font-weight="bold" font-size="10.4" text-anchor="end">NaHCO<tspan font-size="7.6" dy="2.2">3</tspan></text>
<path d="M152,657.5V767" stroke="#3c3c3c" stroke-width="1" fill="none"/>
<path d="M148.8,657.5H152" stroke="#3c3c3c" stroke-width="1"/>
<text x="146.4" y="661.2" font-family="Liberation Serif" font-weight="bold" font-size="11" text-anchor="end">10</text>
<path d="M148.8,679.5H152" stroke="#3c3c3c" stroke-width="1"/>
<text x="146.4" y="683.2" font-family="Liberation Serif" font-weight="bold" font-size="11" text-anchor="end">8</text>
<path d="M148.8,701.25H152" stroke="#3c3c3c" stroke-width="1"/>
<text x="146.4" y="704.95" font-family="Liberation Serif" font-weight="bold" font-size="11" text-anchor="end">6</text>
<path d="M148.8,723.25H152" stroke="#3c3c3c" stroke-width="1"/>
<text x="146.4" y="726.95" font-family="Liberation Serif" font-weight="bold" font-size="11" text-anchor="end">4</text>
<path d="M148.8,745H152" stroke="#3c3c3c" stroke-width="1"/>
<text x="146.4" y="748.7" font-family="Liberation Serif" font-weight="bold" font-size="11" text-anchor="end">2</text>
<path d="M148.8,767H152" stroke="#3c3c3c" stroke-width="1"/>
<text x="146.4" y="770.7" font-family="Liberation Serif" font-weight="bold" font-size="11" text-anchor="end">0</text>
<path d="M173.70,767v3.2" stroke="#333" stroke-width="1"/>
<path d="M223.90,767v3.2" stroke="#333" stroke-width="1"/>
<path d="M274.10,767v3.2" stroke="#333" stroke-width="1"/>
<path d="M324.30,767v3.2" stroke="#333" stroke-width="1"/>
<path d="M164.40,756.25V754.50M161.30,754.50H167.50" stroke="#222" stroke-width="1" fill="none"/>
<path d="M159.30,767.00V757.25H169.50V767.00" fill="#fff" stroke="#000" stroke-width="2.0"/>
<text x="164.20" y="750.90" font-family="Liberation Serif" font-size="10.5" text-anchor="middle" fill="#111">b</text>
<path d="M183.00,754.50V752.50M179.90,752.50H186.10" stroke="#222" stroke-width="1" fill="none"/>
<path d="M177.90,767.00V755.50H188.10V767.00" fill="#fcc07e" stroke="#000" stroke-width="2.0"/>
<text x="182.80" y="749.15" font-family="Liberation Serif" font-size="10.5" text-anchor="middle" fill="#111">c</text>
<path d="M214.60,756.25V754.50M211.50,754.50H217.70" stroke="#222" stroke-width="1" fill="none"/>
<path d="M209.50,767.00V757.25H219.70V767.00" fill="#fff" stroke="#000" stroke-width="2.0"/>
<text x="214.40" y="751.90" font-family="Liberation Serif" font-size="10.5" text-anchor="middle" fill="#111">b</text>
<path d="M233.20,741.75V738.00M230.10,738.00H236.30" stroke="#222" stroke-width="1" fill="none"/>
<path d="M228.10,767.00V742.75H238.30V767.00" fill="#fcc07e" stroke="#000" stroke-width="2.0"/>
<text x="233.00" y="735.90" font-family="Liberation Serif" font-size="10.5" text-anchor="middle" fill="#111">a</text>
<path d="M264.80,682.00V668.75M261.70,668.75H267.90" stroke="#222" stroke-width="1" fill="none"/>
<path d="M259.70,767.00V683.00H269.90V767.00" fill="#fff" stroke="#000" stroke-width="2.0"/>
<text x="264.60" y="669.90" font-family="Liberation Serif" font-size="10.5" text-anchor="middle" fill="#111">a</text>
<path d="M283.40,755.50V753.50M280.30,753.50H286.50" stroke="#222" stroke-width="1" fill="none"/>
<path d="M278.30,767.00V756.50H288.50V767.00" fill="#fcc07e" stroke="#000" stroke-width="2.0"/>
<text x="283.20" y="753.40" font-family="Liberation Serif" font-size="10.5" text-anchor="middle" fill="#111">c</text>
<path d="M315.00,758.00V756.25M311.90,756.25H318.10" stroke="#222" stroke-width="1" fill="none"/>
<path d="M309.90,767.00V759.00H320.10V767.00" fill="#fff" stroke="#000" stroke-width="2.0"/>
<text x="314.80" y="751.40" font-family="Liberation Serif" font-size="10.5" text-anchor="middle" fill="#111">b</text>
<path d="M333.60,748.75V745.75M330.50,745.75H336.70" stroke="#222" stroke-width="1" fill="none"/>
<path d="M328.50,767.00V749.75H338.70V767.00" fill="#fcc07e" stroke="#000" stroke-width="2.0"/>
<text x="333.40" y="741.90" font-family="Liberation Serif" font-size="10.5" text-anchor="middle" fill="#111">b</text>
<path d="M148,767H348" stroke="#444" stroke-width="1.2" fill="none"/>
<path d="M158.25,740H181.75" stroke="#111" stroke-width="1.55"/>
<path d="M170.00,733.00L170.00,737.00M168.27,734.00L171.73,736.00M171.73,734.00L168.27,736.00" stroke="#7a7a7a" stroke-width="1.15" fill="none"/>
<path d="M211.25,725.75H234.5" stroke="#111" stroke-width="1.55"/>
<path d="M217.28,718.00L217.28,722.00M215.54,719.00L219.01,721.00M219.01,719.00L215.54,721.00" stroke="#7a7a7a" stroke-width="1.15" fill="none"/><path d="M222.88,718.00L222.88,722.00M221.14,719.00L224.61,721.00M224.61,719.00L221.14,721.00" stroke="#7a7a7a" stroke-width="1.15" fill="none"/><path d="M228.47,718.00L228.47,722.00M226.74,719.00L230.21,721.00M230.21,719.00L226.74,721.00" stroke="#7a7a7a" stroke-width="1.15" fill="none"/>
<path d="M260,661.25H283.75" stroke="#111" stroke-width="1.55"/>
<path d="M266.27,653.75L266.27,657.75M264.54,654.75L268.01,656.75M268.01,654.75L264.54,656.75" stroke="#7a7a7a" stroke-width="1.15" fill="none"/><path d="M271.88,653.75L271.88,657.75M270.14,654.75L273.61,656.75M273.61,654.75L270.14,656.75" stroke="#7a7a7a" stroke-width="1.15" fill="none"/><path d="M277.47,653.75L277.47,657.75M275.74,654.75L279.21,656.75M279.21,654.75L275.74,656.75" stroke="#7a7a7a" stroke-width="1.15" fill="none"/>
<text x="249.5" y="651.3" font-family="Liberation Serif" font-style="italic" font-size="10.6" text-anchor="middle" fill="#333">OsNADP-ME</text>
<text transform="translate(176.70,779.30) rotate(-45)" font-family="Liberation Serif" font-weight="bold" font-size="10.4" text-anchor="end">Control</text>
<text transform="translate(226.90,779.30) rotate(-45)" font-family="Liberation Serif" font-weight="bold" font-size="10.4" text-anchor="end">NaCl</text>
<text transform="translate(277.10,779.30) rotate(-45)" font-family="Liberation Serif" font-weight="bold" font-size="10.4" text-anchor="end">Na<tspan font-size="7.6" dy="2.2">2</tspan><tspan dy="-2.2">CO</tspan><tspan font-size="7.6" dy="2.2">3</tspan></text>
<text transform="translate(327.30,779.30) rotate(-45)" font-family="Liberation Serif" font-weight="bold" font-size="10.4" text-anchor="end">NaHCO<tspan font-size="7.6" dy="2.2">3</tspan></text>
<path d="M390,657V766.75" stroke="#3c3c3c" stroke-width="1" fill="none"/>
<path d="M386.8,657H390" stroke="#3c3c3c" stroke-width="1"/>
<text x="384.4" y="660.7" font-family="Liberation Serif" font-weight="bold" font-size="11" text-anchor="end">2.0</text>
<path d="M386.8,684.5H390" stroke="#3c3c3c" stroke-width="1"/>
<text x="384.4" y="688.2" font-family="Liberation Serif" font-weight="bold" font-size="11" text-anchor="end">1.5</text>
<path d="M386.8,711.75H390" stroke="#3c3c3c" stroke-width="1"/>
<text x="384.4" y="715.45" font-family="Liberation Serif" font-weight="bold" font-size="11" text-anchor="end">1.0</text>
<path d="M386.8,739.25H390" stroke="#3c3c3c" stroke-width="1"/>
<text x="384.4" y="742.95" font-family="Liberation Serif" font-weight="bold" font-size="11" text-anchor="end">0.5</text>
<path d="M386.8,766.75H390" stroke="#3c3c3c" stroke-width="1"/>
<text x="384.4" y="770.45" font-family="Liberation Serif" font-weight="bold" font-size="11" text-anchor="end">0.0</text>
<path d="M412.60,766.75v3.2" stroke="#333" stroke-width="1"/>
<path d="M462.80,766.75v3.2" stroke="#333" stroke-width="1"/>
<path d="M513.00,766.75v3.2" stroke="#333" stroke-width="1"/>
<path d="M563.20,766.75v3.2" stroke="#333" stroke-width="1"/>
<path d="M403.30,712.50V710.00M400.20,710.00H406.40" stroke="#222" stroke-width="1" fill="none"/>
<path d="M398.20,766.75V713.50H408.40V766.75" fill="#fff" stroke="#000" stroke-width="2.0"/>
<text x="403.10" y="706.65" font-family="Liberation Serif" font-size="10.5" text-anchor="middle" fill="#111">c</text>
<path d="M421.90,734.50V730.00M418.80,730.00H425.00" stroke="#222" stroke-width="1" fill="none"/>
<path d="M416.80,766.75V735.50H427.00V766.75" fill="#fcc07e" stroke="#000" stroke-width="2.0"/>
<text x="421.70" y="729.15" font-family="Liberation Serif" font-size="10.5" text-anchor="middle" fill="#111">c</text>
<path d="M453.50,710.00V707.50M450.40,707.50H456.60" stroke="#222" stroke-width="1" fill="none"/>
<path d="M448.40,766.75V711.00H458.60V766.75" fill="#fff" stroke="#000" stroke-width="2.0"/>
<text x="453.30" y="705.65" font-family="Liberation Serif" font-size="10.5" text-anchor="middle" fill="#111">b</text>
<path d="M472.10,728.25V726.25M469.00,726.25H475.20" stroke="#222" stroke-width="1" fill="none"/>
<path d="M467.00,766.75V729.25H477.20V766.75" fill="#fcc07e" stroke="#000" stroke-width="2.0"/>
<text x="471.90" y="723.90" font-family="Liberation Serif" font-size="10.5" text-anchor="middle" fill="#111">b</text>
<path d="M503.70,696.25V689.25M500.60,689.25H506.80" stroke="#222" stroke-width="1" fill="none"/>
<path d="M498.60,766.75V697.25H508.80V766.75" fill="#fff" stroke="#000" stroke-width="2.0"/>
<text x="503.50" y="685.90" font-family="Liberation Serif" font-size="10.5" text-anchor="middle" fill="#111">a</text>
<path d="M522.30,695.50V694.50M519.20,694.50H525.40" stroke="#222" stroke-width="1" fill="none"/>
<path d="M517.20,766.75V696.50H527.40V766.75" fill="#fcc07e" stroke="#000" stroke-width="2.0"/>
<text x="522.10" y="692.90" font-family="Liberation Serif" font-size="10.5" text-anchor="middle" fill="#111">a</text>
<path d="M553.90,692.00V683.25M550.80,683.25H557.00" stroke="#222" stroke-width="1" fill="none"/>
<path d="M548.80,766.75V693.00H559.00V766.75" fill="#fff" stroke="#000" stroke-width="2.0"/>
<text x="553.70" y="679.90" font-family="Liberation Serif" font-size="10.5" text-anchor="middle" fill="#111">a</text>
<path d="M572.50,685.00V683.75M569.40,683.75H575.60" stroke="#222" stroke-width="1" fill="none"/>
<path d="M567.40,766.75V686.00H577.60V766.75" fill="#fcc07e" stroke="#000" stroke-width="2.0"/>
<text x="572.30" y="681.65" font-family="Liberation Serif" font-size="10.5" text-anchor="middle" fill="#111">a</text>
<path d="M386,766.75H586" stroke="#444" stroke-width="1.2" fill="none"/>
<path d="M397,696.75H420.75" stroke="#111" stroke-width="1.55"/>
<path d="M403.27,689.25L403.27,693.25M401.54,690.25L405.01,692.25M405.01,690.25L401.54,692.25" stroke="#7a7a7a" stroke-width="1.15" fill="none"/><path d="M408.88,689.25L408.88,693.25M407.14,690.25L410.61,692.25M410.61,690.25L407.14,692.25" stroke="#7a7a7a" stroke-width="1.15" fill="none"/><path d="M414.47,689.25L414.47,693.25M412.74,690.25L416.21,692.25M416.21,690.25L412.74,692.25" stroke="#7a7a7a" stroke-width="1.15" fill="none"/>
<path d="M449.5,696.25H473" stroke="#111" stroke-width="1.55"/>
<path d="M458.45,688.75L458.45,692.75M456.72,689.75L460.18,691.75M460.18,689.75L456.72,691.75" stroke="#7a7a7a" stroke-width="1.15" fill="none"/><path d="M464.05,688.75L464.05,692.75M462.32,689.75L465.78,691.75M465.78,689.75L462.32,691.75" stroke="#7a7a7a" stroke-width="1.15" fill="none"/>
<path d="M549.75,668.25H574" stroke="#111" stroke-width="1.55"/>
<path d="M556.27,660.50L556.27,664.50M554.54,661.50L558.01,663.50M558.01,661.50L554.54,663.50" stroke="#7a7a7a" stroke-width="1.15" fill="none"/><path d="M561.88,660.50L561.88,664.50M560.14,661.50L563.61,663.50M563.61,661.50L560.14,663.50" stroke="#7a7a7a" stroke-width="1.15" fill="none"/><path d="M567.48,660.50L567.48,664.50M565.74,661.50L569.21,663.50M569.21,661.50L565.74,663.50" stroke="#7a7a7a" stroke-width="1.15" fill="none"/>
<text x="495" y="649.3" font-family="Liberation Serif" font-style="italic" font-size="10.6" text-anchor="middle" fill="#333">OsPDHA</text>
<text transform="translate(415.60,779.05) rotate(-45)" font-family="Liberation Serif" font-weight="bold" font-size="10.4" text-anchor="end">Control</text>
<text transform="translate(465.80,779.05) rotate(-45)" font-family="Liberation Serif" font-weight="bold" font-size="10.4" text-anchor="end">NaCl</text>
<text transform="translate(516.00,779.05) rotate(-45)" font-family="Liberation Serif" font-weight="bold" font-size="10.4" text-anchor="end">Na<tspan font-size="7.6" dy="2.2">2</tspan><tspan dy="-2.2">CO</tspan><tspan font-size="7.6" dy="2.2">3</tspan></text>
<text transform="translate(566.20,779.05) rotate(-45)" font-family="Liberation Serif" font-weight="bold" font-size="10.4" text-anchor="end">NaHCO<tspan font-size="7.6" dy="2.2">3</tspan></text>
</svg>
</body></html>
